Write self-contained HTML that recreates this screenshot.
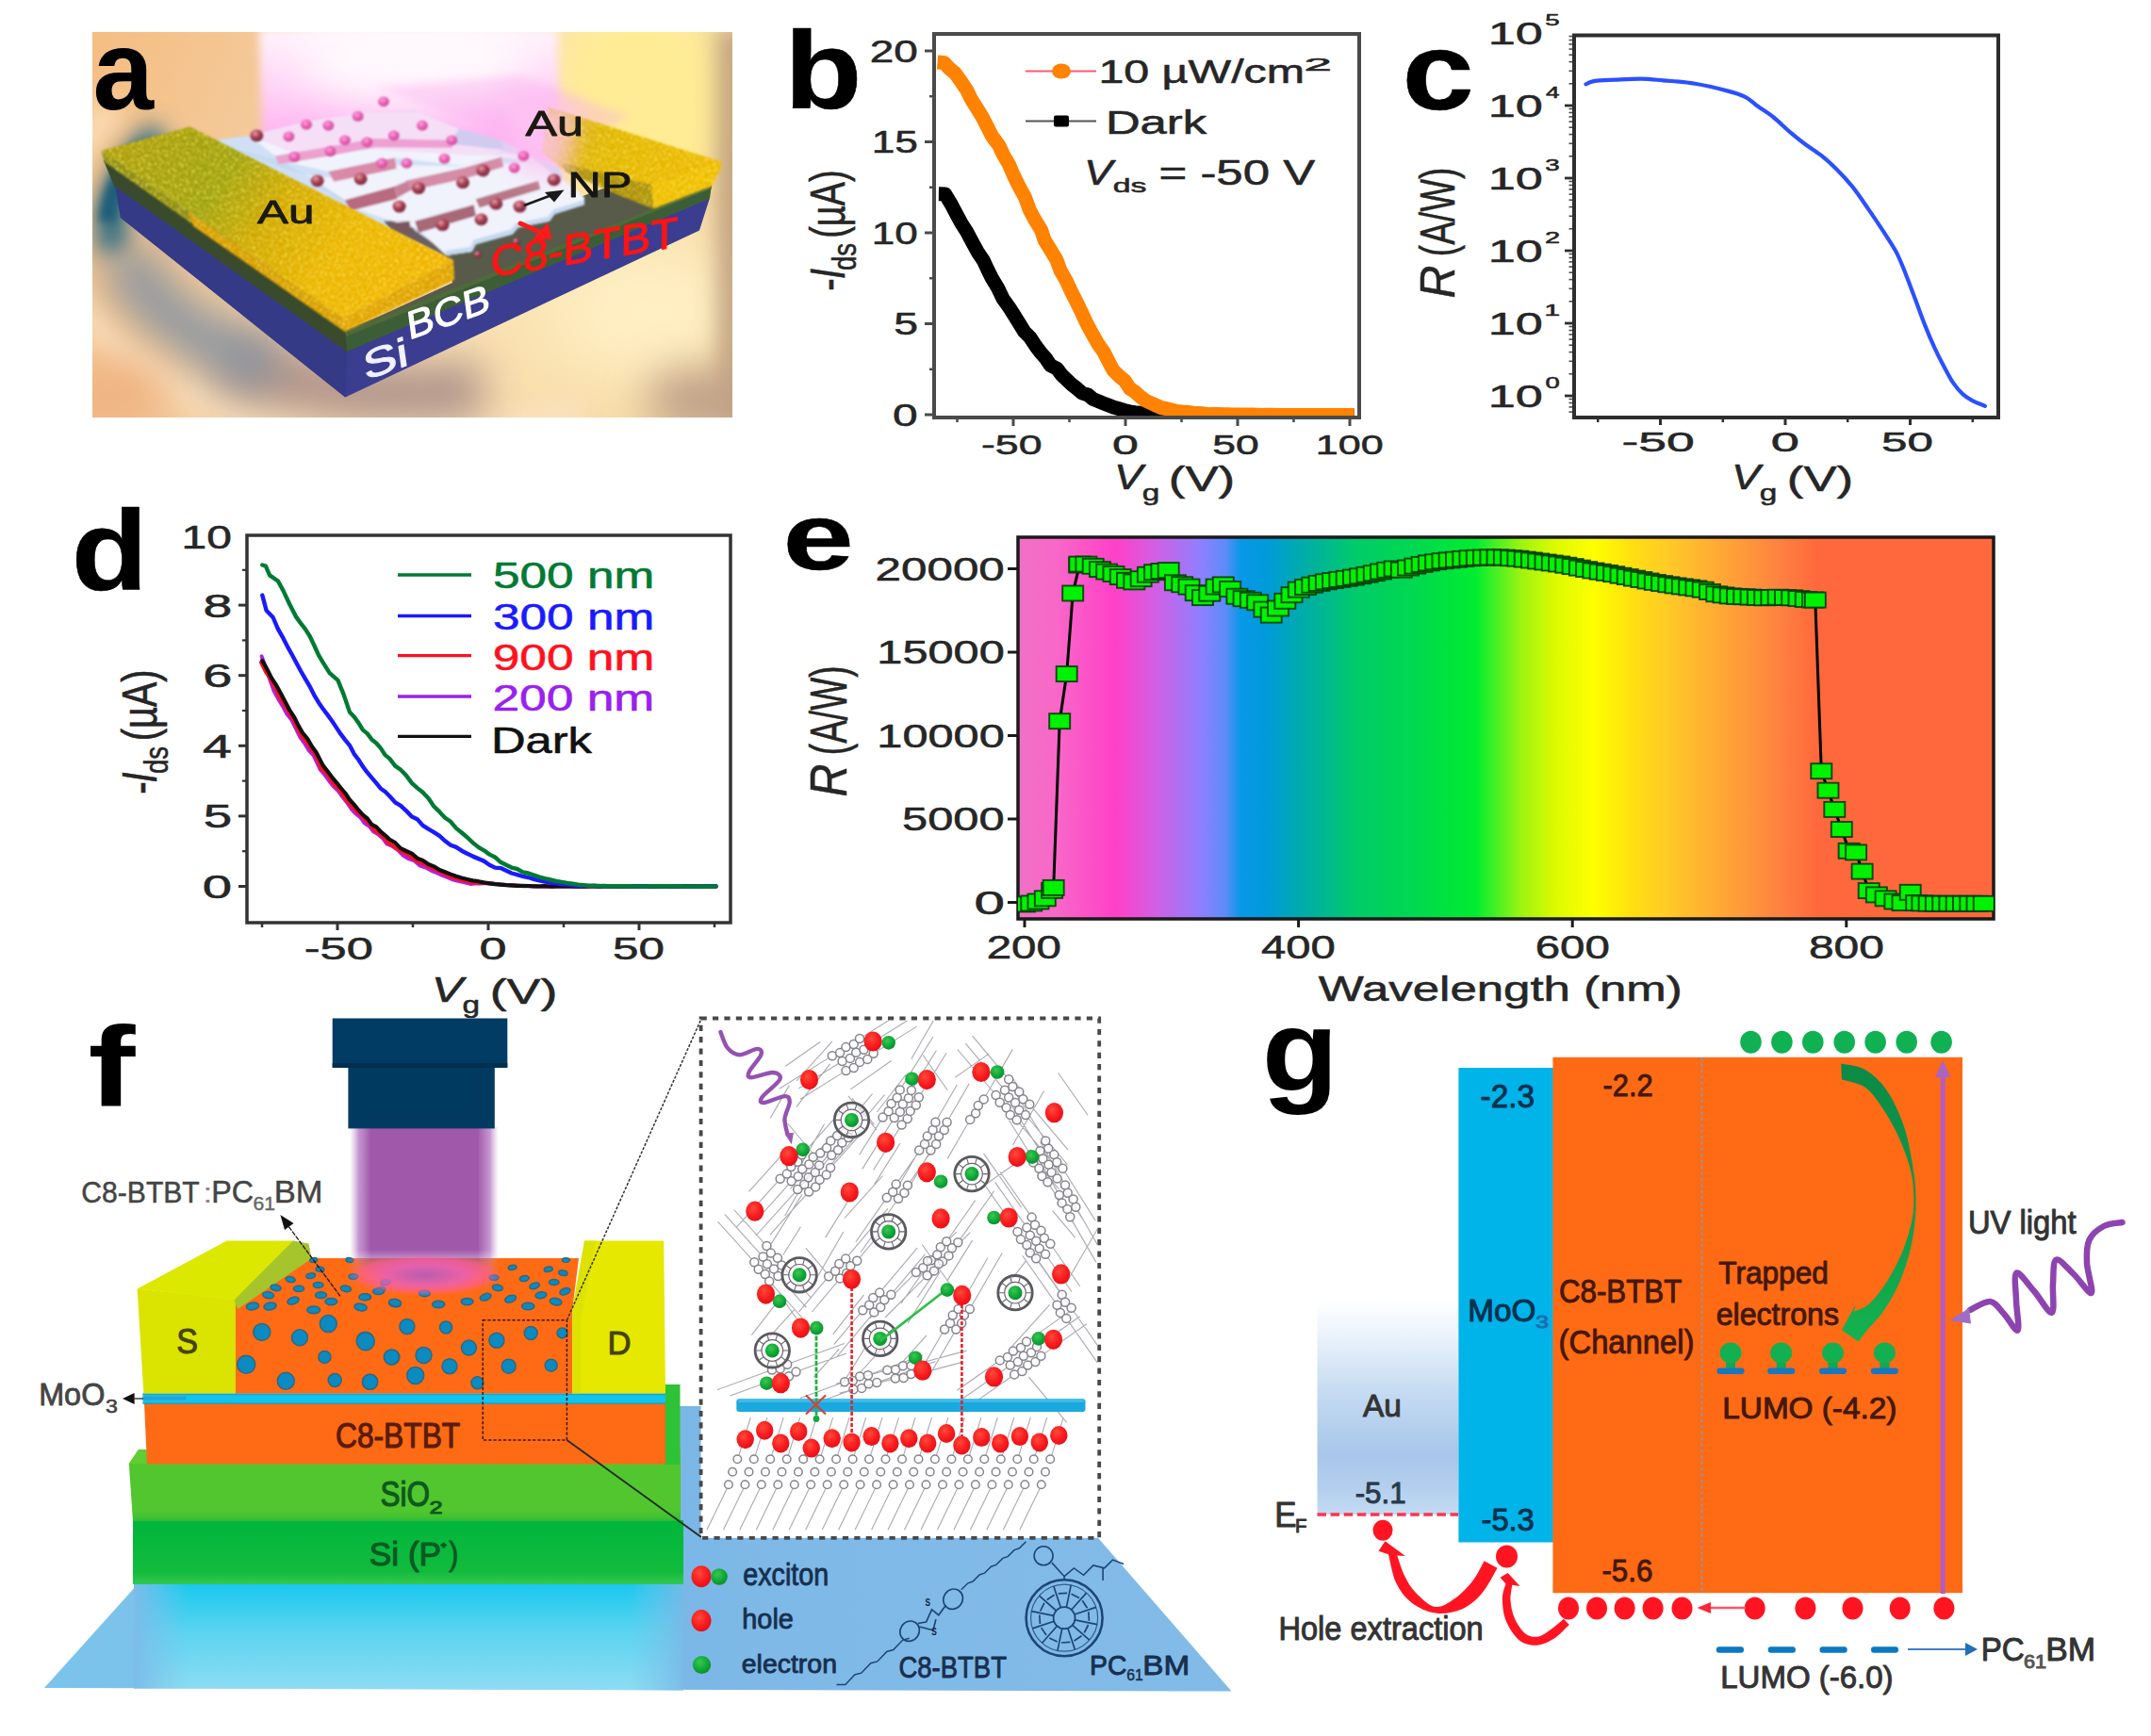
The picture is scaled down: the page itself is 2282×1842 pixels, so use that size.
<!DOCTYPE html>
<html lang="en"><head><meta charset="utf-8"><title>Figure</title>
<style>
html,body{margin:0;padding:0;background:#fff;}
body{width:2282px;height:1842px;overflow:hidden;}
svg{display:block;filter:blur(0.65px);font-family:"Liberation Sans",Arial,Helvetica,sans-serif;}
</style></head><body>
<svg width="2282" height="1842" viewBox="0 0 2282 1842">
<defs>
<clipPath id="clipa"><rect x="98" y="34" width="679" height="409"/></clipPath>
<filter id="bl40" filterUnits="userSpaceOnUse" x="0" y="-80" width="950" height="650"><feGaussianBlur stdDeviation="40"/></filter>
<filter id="bl22" filterUnits="userSpaceOnUse" x="0" y="-80" width="950" height="650"><feGaussianBlur stdDeviation="22"/></filter>
<filter id="bl12" filterUnits="userSpaceOnUse" x="0" y="-80" width="950" height="650"><feGaussianBlur stdDeviation="12"/></filter>
<filter id="bl5" filterUnits="userSpaceOnUse" x="0" y="-80" width="950" height="650"><feGaussianBlur stdDeviation="5"/></filter>
<filter id="bl1" x="-5%" y="-5%" width="110%" height="110%"><feGaussianBlur stdDeviation="1.1"/></filter>
<filter id="bl2" x="-5%" y="-5%" width="110%" height="110%"><feGaussianBlur stdDeviation="2"/></filter>
<linearGradient id="abg" x1="0" y1="0" x2="1" y2="0.25"><stop offset="0" stop-color="#f5bd82"/><stop offset="0.35" stop-color="#f3cc9e"/><stop offset="0.7" stop-color="#fbe2b4"/><stop offset="1" stop-color="#f6d9a4"/></linearGradient>
<linearGradient id="goldL" gradientUnits="userSpaceOnUse" x1="150" y1="140" x2="420" y2="330"><stop offset="0" stop-color="#a89c0c"/><stop offset="0.3" stop-color="#9aa012"/><stop offset="0.5" stop-color="#d2a800"/><stop offset="0.75" stop-color="#efb600"/><stop offset="1" stop-color="#f4b400"/></linearGradient>
<linearGradient id="goldR" gradientUnits="userSpaceOnUse" x1="590" y1="120" x2="740" y2="200"><stop offset="0" stop-color="#d8b010"/><stop offset="0.5" stop-color="#e6b800"/><stop offset="1" stop-color="#f0b800"/></linearGradient>
<linearGradient id="beamA" x1="0" y1="0" x2="0" y2="1"><stop offset="0" stop-color="#fff4fb"/><stop offset="0.35" stop-color="#ffd2f6"/><stop offset="0.8" stop-color="#ff9fee"/><stop offset="1" stop-color="#ff8ae8"/></linearGradient>
<radialGradient id="npd" cx="0.38" cy="0.32" r="0.75"><stop offset="0" stop-color="#e8a0a8"/><stop offset="0.45" stop-color="#a84055"/><stop offset="1" stop-color="#6e2438"/></radialGradient>
<radialGradient id="npp" cx="0.4" cy="0.35" r="0.75"><stop offset="0" stop-color="#ffa0e0"/><stop offset="0.5" stop-color="#e85cb0"/><stop offset="1" stop-color="#c04890"/></radialGradient>
<filter id="grainY" x="0" y="0" width="100%" height="100%"><feTurbulence type="fractalNoise" baseFrequency="0.42" numOctaves="2" seed="3" result="n"/><feColorMatrix in="n" type="matrix" values="0 0 0 0 1  0 0 0 0 0.92  0 0 0 0 0.1  0 0 0 2.6 -1.25" result="c"/><feComposite in="c" in2="SourceGraphic" operator="in"/></filter>
<filter id="grainD" x="0" y="0" width="100%" height="100%"><feTurbulence type="fractalNoise" baseFrequency="0.5" numOctaves="2" seed="11" result="n"/><feColorMatrix in="n" type="matrix" values="0 0 0 0 0.5  0 0 0 0 0.3  0 0 0 0 0  0 0 0 2.4 -1.3" result="c"/><feComposite in="c" in2="SourceGraphic" operator="in"/></filter>
<pattern id="goldtex" width="5" height="5" patternUnits="userSpaceOnUse" patternTransform="rotate(28)"><rect width="5" height="5" fill="none"/><circle cx="1.4" cy="1.4" r="1.1" fill="#fff200" opacity="0.28"/><circle cx="3.8" cy="3.6" r="1" fill="#a06800" opacity="0.22"/></pattern>
<linearGradient id="specg" gradientUnits="userSpaceOnUse" x1="1080" y1="0" x2="2115" y2="0">
<stop offset="0.0000" stop-color="#f070c4"/>
<stop offset="0.0386" stop-color="#f868c8"/>
<stop offset="0.0995" stop-color="#ff40c8"/>
<stop offset="0.1420" stop-color="#d060e4"/>
<stop offset="0.1884" stop-color="#8c80ff"/>
<stop offset="0.2126" stop-color="#5c8cf8"/>
<stop offset="0.2280" stop-color="#0898e8"/>
<stop offset="0.2531" stop-color="#009adc"/>
<stop offset="0.2995" stop-color="#00b0a0"/>
<stop offset="0.3478" stop-color="#00cc68"/>
<stop offset="0.4058" stop-color="#00d850"/>
<stop offset="0.4686" stop-color="#00ec30"/>
<stop offset="0.4879" stop-color="#40f024"/>
<stop offset="0.5169" stop-color="#a0f410"/>
<stop offset="0.5507" stop-color="#dcfa00"/>
<stop offset="0.5894" stop-color="#ffff00"/>
<stop offset="0.6280" stop-color="#ffe010"/>
<stop offset="0.6696" stop-color="#ffc828"/>
<stop offset="0.7333" stop-color="#ffa038"/>
<stop offset="0.7826" stop-color="#ff8040"/>
<stop offset="0.8193" stop-color="#ff683c"/>
<stop offset="1.0000" stop-color="#ff683c"/>
</linearGradient>
<linearGradient id="floorg" gradientUnits="userSpaceOnUse" x1="40" y1="0" x2="1310" y2="0">
<stop offset="0" stop-color="#7cc4ec"/><stop offset="0.5" stop-color="#78b6e6"/><stop offset="0.62" stop-color="#7fb9e7"/><stop offset="1" stop-color="#82bbe8"/></linearGradient>
<linearGradient id="reflg" gradientUnits="userSpaceOnUse" x1="0" y1="1680" x2="0" y2="1794">
<stop offset="0" stop-color="#18c8ee"/><stop offset="0.45" stop-color="#5ad4f0"/><stop offset="1" stop-color="#8edcf2"/></linearGradient>
<linearGradient id="reflg2" gradientUnits="userSpaceOnUse" x1="142" y1="0" x2="725" y2="0">
<stop offset="0" stop-color="#7bbcea" stop-opacity="1"/><stop offset="0.1" stop-color="#7cc4ec" stop-opacity="0"/><stop offset="0.9" stop-color="#7cc4ec" stop-opacity="0"/><stop offset="1" stop-color="#7ab8e6" stop-opacity="0.9"/></linearGradient>
<linearGradient id="sig" x1="0" y1="0" x2="0" y2="1"><stop offset="0" stop-color="#00b63c"/><stop offset="0.8" stop-color="#12bb3c"/><stop offset="1" stop-color="#34c850"/></linearGradient>
<linearGradient id="sio2b" x1="0" y1="0" x2="0" y2="1"><stop offset="0" stop-color="#52c62e" stop-opacity="0"/><stop offset="1" stop-color="#2cbc36"/></linearGradient>
<linearGradient id="beamg" x1="0" y1="0" x2="1" y2="0"><stop offset="0" stop-color="#c9a0d6" stop-opacity="0"/><stop offset="0.06" stop-color="#b77cc4" stop-opacity="0.8"/><stop offset="0.14" stop-color="#a058ab"/><stop offset="0.86" stop-color="#a058ab"/><stop offset="0.94" stop-color="#b77cc4" stop-opacity="0.8"/><stop offset="1" stop-color="#c9a0d6" stop-opacity="0"/></linearGradient>
<linearGradient id="beamfade" gradientUnits="userSpaceOnUse" x1="0" y1="1190" x2="0" y2="1360"><stop offset="0" stop-color="#fff"/><stop offset="0.8" stop-color="#fff"/><stop offset="0.97" stop-color="#000"/></linearGradient>
<radialGradient id="glowg"><stop offset="0" stop-color="#b45cb8" stop-opacity="0.95"/><stop offset="0.5" stop-color="#e860bc" stop-opacity="0.85"/><stop offset="0.8" stop-color="#ff5cae" stop-opacity="0.55"/><stop offset="1" stop-color="#ff6a90" stop-opacity="0"/></radialGradient>
<radialGradient id="rsph" cx="0.4" cy="0.35" r="0.7"><stop offset="0" stop-color="#ff4a3a"/><stop offset="0.6" stop-color="#fa1a1e"/><stop offset="1" stop-color="#e01018"/></radialGradient>
<radialGradient id="gsph" cx="0.4" cy="0.35" r="0.7"><stop offset="0" stop-color="#3ac850"/><stop offset="0.6" stop-color="#10a838"/><stop offset="1" stop-color="#0a8a2c"/></radialGradient>
<linearGradient id="aug" x1="0" y1="0" x2="0" y2="1">
<stop offset="0" stop-color="#ffffff"/><stop offset="0.18" stop-color="#e8f1fa"/><stop offset="0.45" stop-color="#c2d9f1"/><stop offset="0.72" stop-color="#a8c6ea"/><stop offset="0.88" stop-color="#b4cfee"/><stop offset="1" stop-color="#c4dbf3"/></linearGradient>
<linearGradient id="garr" x1="0" y1="0" x2="0" y2="1"><stop offset="0" stop-color="#0b8a45"/><stop offset="0.5" stop-color="#0f9a4a"/><stop offset="1" stop-color="#14b24f"/></linearGradient>
</defs>
<rect width="2282" height="1842" fill="#fff"/>
<g id="panel_a">
<g clip-path="url(#clipa)">
<rect x="97" y="33" width="681" height="411" fill="url(#abg)"/>
<ellipse cx="680" cy="110" rx="95" ry="120" fill="#ffec94" filter="url(#bl22)"/>
<ellipse cx="690" cy="330" rx="120" ry="80" fill="#fff0c4" filter="url(#bl40)"/>
<rect x="762" y="30" width="30" height="420" fill="#b89878" filter="url(#bl12)" opacity="0.9"/>
<path d="M620.2,433.8 L582.3,445.0 L542.4,453.7 L501.2,459.7 L459.1,462.9 L416.6,463.3 L374.3,460.9 L332.8,455.7 L292.5,447.8 L254.0,437.3 L217.7,424.3 L184.2,408.9 L153.7,391.5 L126.9,372.1 L103.8,351.1 L85.0,328.7 L70.5,305.2 L60.7,280.8 L55.5,256.0 L55.1,231.0 L59.5,206.1 L68.6,181.7 L82.4,158.0 L100.5,135.4 L122.9,114.2" fill="none" stroke="#fbe3c2" stroke-width="34" opacity="0.75" filter="url(#bl12)"/>
<path d="M513.0,411.5 L501.2,413.1 L489.4,414.5 L477.4,415.6 L465.4,416.5 L453.4,417.1 L441.3,417.4 L429.2,417.5 L417.1,417.3 L405.0,416.9 L393.0,416.2 L381.0,415.2 L369.1,414.0 L357.3,412.5 L345.6,410.8 L334.0,408.8 L322.6,406.5 L311.3,404.1 L300.2,401.3 L289.4,398.4 L278.7,395.2 L268.2,391.8 L258.0,388.1 L248.1,384.3 L238.4,380.2" fill="none" stroke="#a88c88" stroke-width="62" opacity="0.9" filter="url(#bl22)"/>
<path d="M289.9,389.8 L279.6,386.6 L269.4,383.2 L259.6,379.5 L250.0,375.7 L240.6,371.6 L231.6,367.3 L222.9,362.9 L214.5,358.2 L206.4,353.4 L198.7,348.4 L191.3,343.2 L184.3,337.9 L177.7,332.4 L171.5,326.8 L165.7,321.0 L160.3,315.1 L155.3,309.2 L150.7,303.1 L146.6,296.9 L142.9,290.6 L139.7,284.3 L136.9,277.9 L134.5,271.4 L132.6,264.9" fill="none" stroke="#8492a0" stroke-width="56" opacity="0.9" filter="url(#bl22)"/>
<path d="M120.8,266.3 L119.6,260.9 L118.7,255.5 L118.1,250.0 L117.7,244.6 L117.7,239.2 L118.0,233.7 L118.6,228.3 L119.4,222.9 L120.6,217.5 L122.0,212.1 L123.7,206.8 L125.7,201.5 L128.0,196.2 L130.6,190.9 L133.5,185.8 L136.6,180.6 L140.1,175.5 L143.7,170.5 L147.7,165.6 L151.9,160.7 L156.4,155.9 L161.1,151.2 L166.1,146.5 L171.4,142.0" fill="none" stroke="#2c6a84" stroke-width="32" filter="url(#bl12)"/>
<path d="M113.9,235.2 L114.2,231.8 L114.5,228.4 L115.0,225.0 L115.6,221.6 L116.4,218.3 L117.2,214.9 L118.1,211.5 L119.2,208.2 L120.4,204.8 L121.6,201.5 L123.0,198.2 L124.5,194.9 L126.1,191.6 L127.9,188.4 L129.7,185.1 L131.6,181.9 L133.7,178.7 L135.8,175.5 L138.1,172.4 L140.4,169.2 L142.9,166.1 L145.5,163.1 L148.2,160.0 L150.9,157.0" fill="none" stroke="#1f5d78" stroke-width="18" filter="url(#bl5)"/>
<ellipse cx="118" cy="420" rx="60" ry="40" fill="#f0b483" filter="url(#bl22)"/>
<ellipse cx="745" cy="425" rx="60" ry="35" fill="#bfa088" filter="url(#bl22)"/>
<path d="M275,30 L591,30 L594,150 Q594,200 470,215 Q300,215 278,150 Z" fill="url(#beamA)" filter="url(#bl5)"/>
<ellipse cx="440" cy="62" rx="125" ry="48" fill="#fffafd" filter="url(#bl22)" opacity="0.95"/>
<path d="M122,196 L368,372 L753,210 L742,244.5 L366.3,421.5 L128,231 Z" fill="#3b3d90"/>
<path d="M122,196 L368,372 L366.3,421.5 L128,231 Z" fill="#353a86"/>
<path d="M110,170 L366,350 L755,196 L753,210.5 L368,373 L121,197 Z" fill="#3c5e36"/>
<path d="M110,170 L366,350 L368,373 L121,197 Z" fill="#3a4a2c"/>
<path d="M366,352 L480,300 L470,262 L640,200 L700,205 L755,196 L700,222 Z" fill="#585a4a"/>
<path d="M366,352 L755,196 L755,200 L367,357 Z" fill="#4f6a3a"/>
<g filter="url(#bl1)"><polygon points="229.3,148.8 264.4,143.9 317.2,131.2 385.5,119.5 440.2,117.6 487.1,137.1 532.0,148.8 561.3,164.4 592.6,176.2 598.4,191.8 619.9,209.4 619.9,217.2 588.6,226.9 582.8,234.8 549.6,241.6 543.7,248.4 504.7,259.2 500.8,267.0 473.4,270.9 481.2,276.7 414.8,248.4 229.3,158.6" fill="#cfe0f6"/>
<polygon points="407.0,234.8 434.4,232.8 440.2,244.5 477.3,269.9 482.2,277.7 414.8,244.5" fill="#6a5e62"/>
<polygon points="264.4,143.9 325.0,129.3 387.5,119.5 442.2,118.6 487.1,137.1 479.3,148.8 397.3,146.9 348.4,155.7 291.8,165.4" fill="#f1f3fc"/>
<polygon points="297.6,170.3 350.4,161.5 399.2,152.3 481.2,153.1 532.0,148.8 535.9,160.5 492.9,176.2 418.7,167.4 405.1,170.3 348.4,182.0" fill="#f1f3fc"/>
<polygon points="325.0,185.9 356.2,188.9 420.7,175.2 492.9,176.6 535.9,160.9 561.3,165.4 571.1,172.7 532.0,166.4 492.9,178.1 430.5,191.8 418.7,197.7 366.0,212.3" fill="#f1f3fc"/>
<polygon points="366.0,212.3 418.7,197.7 434.4,198.6 493.9,185.5 534.4,173.2 571.1,172.7 592.6,176.6 597.4,190.8 571.1,191.8 504.7,211.3 440.2,234.8 416.8,234.8 371.9,219.5" fill="#f1f3fc"/>
<polygon points="416.8,234.8 440.2,234.8 504.7,211.3 571.1,191.8 597.4,190.8 619.9,209.4 619.9,217.2 588.6,226.9 582.8,234.8 549.6,241.6 543.7,248.4 504.7,259.2 500.8,267.0 473.4,270.9 444.1,243.5" fill="#f1f3fc"/>
<polygon points="479.3,148.8 487.1,137.1 532.0,148.8 535.9,160.5 530.1,158.6 481.2,153.1" fill="#c4d9f2"/>
<polygon points="561.3,165.4 592.6,176.6 597.4,190.8 588.6,185.9 571.1,172.7" fill="#c4d9f2"/>
<polygon points="325.0,185.9 366.0,212.3 371.9,219.5 336.7,197.7" fill="#c4d9f2"/>
<polygon points="244.9,157.0 297.6,170.3 325.0,185.9 309.4,182.0" fill="#c4d9f2"/>
<polygon points="473.4,270.9 500.8,267.0 504.7,259.2 543.7,248.4 549.6,241.6 582.8,234.8 588.6,226.9 619.9,217.2 619.9,212.3 587.7,222.1 580.8,229.9 547.6,236.7 541.8,243.5 502.7,254.3 498.8,262.1 472.4,266.0" fill="#c4d9f2"/>
<polygon points="291.8,165.4 348.4,155.7 397.3,146.9 479.3,148.8 479.7,157.0 398.2,156.2 349.4,165.4 295.7,174.6" fill="#e9a2cc"/>
<polygon points="348.4,182.0 405.1,170.3 418.7,167.4 420.7,179.1 407.0,182.0 354.3,192.8" fill="#d98aa8"/>
<polygon points="430.5,191.8 492.9,178.1 532.0,166.4 534.4,177.1 493.9,189.4 434.4,202.5" fill="#d58ca6"/>
<polygon points="366.0,212.3 418.7,197.7 421.7,210.9 371.9,223.8" fill="#b86a80"/>
<polygon points="440.2,234.8 502.7,217.2 505.1,228.9 444.1,246.9" fill="#a86878"/>
<polygon points="504.7,211.3 571.1,191.8 573.4,200.8 508.6,220.5" fill="#b87888"/>
<polygon points="414.8,236.7 434.4,234.8 436.7,247.6 424.6,247.6" fill="#7a5660"/>
<polygon points="432.4,192.2 418.7,197.7 421.7,209.8 435.3,202.3" fill="#c88098"/>
<polygon points="264.4,143.9 317.2,131.2 385.5,119.5 440.2,117.6 487.1,137.1 532.0,148.8 561.3,164.4 492.9,164.4 395.3,158.6 317.2,164.4" fill="#ff9ae6" opacity="0.22"/>
</g>
<polygon points="397.9,93.0 550.4,80.0 669.4,124.6 580.2,156.2 483.5,122.7" fill="#f7a8ee" opacity="0.35" filter="url(#bl5)"/>
<g filter="url(#bl1)"><path d="M107.7,160 L201.5,134.5 L481,276 L364,338 Z" fill="url(#goldL)"/>
<path d="M107.7,160 L364,338 L366,352 L111,172 Z" fill="#8a8a18"/>
<path d="M200,225 L364,338 L366,352 L205,240 Z" fill="#d89c00"/>
<path d="M364,338 L481,276 L482,297 L366,352 Z" fill="#e2a000"/>
<path d="M107.7,160 L201.5,134.5 L481,276 L482,297 L366,352 L111,172 Z" fill="#fff" filter="url(#grainY)"/>
<path d="M107.7,160 L201.5,134.5 L481,276 L482,297 L366,352 L111,172 Z" fill="#fff" filter="url(#grainD)"/>
<path d="M575,161 L581.8,113.7 L765.4,171.8 L764.3,178.8 L755,197.4 L693.4,221.2 L656.2,206.7 L595.8,178.8 Z" fill="url(#goldR)"/>
<path d="M691,196 L763,173 L755,197.4 L693.4,221.2 Z" fill="#f2c000"/>
<path d="M595.8,173 L691,196 L693.4,221.2 L656.2,206.7 L600,182 Z" fill="#a88c08"/>
<path d="M575,161 L581.8,113.7 L765.4,171.8 L764.3,178.8 L755,197.4 L693.4,221.2 L656.2,206.7 L595.8,178.8 Z" fill="#fff" filter="url(#grainY)"/>
<path d="M575,161 L581.8,113.7 L765.4,171.8 L764.3,178.8 L755,197.4 L693.4,221.2 L656.2,206.7 L595.8,178.8 Z" fill="#fff" filter="url(#grainD)"/>
</g>
<path d="M540,100 L615,112 L600,190 L545,180 Z" fill="#ffc4f2" opacity="0.8" filter="url(#bl12)"/>
<g filter="url(#bl1)"><ellipse cx="272.3" cy="143.9" rx="7.0" ry="6.4" fill="url(#npd)"/><ellipse cx="306.4" cy="144.9" rx="5.9" ry="5.4" fill="url(#npp)"/><ellipse cx="325.0" cy="132.2" rx="5.9" ry="5.4" fill="url(#npp)"/><ellipse cx="348.4" cy="133.2" rx="5.9" ry="5.4" fill="url(#npp)"/><ellipse cx="379.7" cy="123.4" rx="5.9" ry="5.4" fill="url(#npp)"/><ellipse cx="407.0" cy="107.8" rx="5.9" ry="5.4" fill="url(#npp)"/><ellipse cx="448.0" cy="133.2" rx="5.9" ry="5.4" fill="url(#npp)"/><ellipse cx="417.8" cy="143.9" rx="5.9" ry="5.4" fill="url(#npp)"/><ellipse cx="389.4" cy="150.8" rx="5.9" ry="5.4" fill="url(#npp)"/><ellipse cx="366.0" cy="148.8" rx="5.9" ry="5.4" fill="url(#npp)"/><ellipse cx="350.4" cy="160.5" rx="5.9" ry="5.4" fill="url(#npp)"/><ellipse cx="312.3" cy="166.4" rx="5.9" ry="5.4" fill="url(#npp)"/><ellipse cx="405.1" cy="173.2" rx="5.9" ry="5.4" fill="url(#npp)"/><ellipse cx="431.4" cy="173.2" rx="5.9" ry="5.4" fill="url(#npp)"/><ellipse cx="471.5" cy="168.4" rx="5.9" ry="5.4" fill="url(#npp)"/><ellipse cx="555.4" cy="165.4" rx="5.9" ry="5.4" fill="url(#npp)"/><ellipse cx="545.7" cy="178.1" rx="5.9" ry="5.4" fill="url(#npp)"/><ellipse cx="512.5" cy="181.0" rx="7.0" ry="6.4" fill="url(#npd)"/><ellipse cx="491.0" cy="193.7" rx="7.0" ry="6.4" fill="url(#npd)"/><ellipse cx="444.1" cy="199.6" rx="7.0" ry="6.4" fill="url(#npd)"/><ellipse cx="382.6" cy="189.8" rx="7.0" ry="6.4" fill="url(#npd)"/><ellipse cx="336.7" cy="191.8" rx="7.0" ry="6.4" fill="url(#npd)"/><ellipse cx="587.7" cy="190.8" rx="7.0" ry="6.4" fill="url(#npd)"/><ellipse cx="526.2" cy="216.2" rx="7.0" ry="6.4" fill="url(#npd)"/><ellipse cx="551.5" cy="219.1" rx="7.0" ry="6.4" fill="url(#npd)"/><ellipse cx="423.6" cy="219.1" rx="7.0" ry="6.4" fill="url(#npd)"/><ellipse cx="510.5" cy="232.8" rx="7.0" ry="6.4" fill="url(#npd)"/><ellipse cx="469.5" cy="238.7" rx="7.0" ry="6.4" fill="url(#npd)"/><ellipse cx="547.6" cy="256.2" rx="3.9" ry="3.5" fill="url(#npd)"/><ellipse cx="479.3" cy="148.8" rx="5.9" ry="5.4" fill="url(#npp)"/><ellipse cx="506.6" cy="269.9" rx="3.9" ry="3.5" fill="url(#npd)"/></g>
<line x1="556" y1="218" x2="588" y2="206" stroke="#1a1a1a" stroke-width="2.6"/>
<polygon points="598.5,201.5 578,204 588,214.5" fill="#1a1a1a"/>
<line x1="552" y1="237" x2="572" y2="246" stroke="#ff1a1a" stroke-width="5" stroke-linecap="round"/>
<polygon points="585.5,253.5 581,236 565,254.5" fill="#ff1a1a"/>
<text transform="translate(273.0,237.0) scale(1.419,1)" x="-0.0" y="0" font-size="34.8" fill="#1a1a10" stroke="#1a1a10" stroke-width="0.8" stroke-linejoin="round">Au</text>
<text transform="translate(557.5,143.5) scale(1.359,1)" x="-0.0" y="0" font-size="37.0" fill="#1a1a10" stroke="#1a1a10" stroke-width="0.8" stroke-linejoin="round">Au</text>
<text transform="translate(606.2,209.0) scale(1.323,1)" x="-3.0" y="0" font-size="37.1" fill="#151515" stroke="#151515" stroke-width="0.8" stroke-linejoin="round">NP</text>
<text transform="translate(522.8,293.5) rotate(-9.2) skewX(-10) scale(1.074,1)" x="-2.2" y="0" font-size="45.0" fill="#ff1414" stroke="#ff1414" stroke-width="1.1" stroke-linejoin="round">C8-BTBT</text>
<text transform="translate(437.0,359.5) rotate(-19.6) skewX(-12) scale(1.114,1)" x="-3.2" y="0" font-size="40.6" fill="#fff" stroke="#fff" stroke-width="1.0" stroke-linejoin="round">BCB</text>
<text transform="translate(390.0,403.0) rotate(-20) skewX(-12) scale(1.355,1)" x="-1.9" y="0" font-size="41.4" fill="#f0f0ff" stroke="#f0f0ff" stroke-width="1.0" stroke-linejoin="round">Si</text>
</g>
<text transform="translate(102.0,116.0) scale(0.960,1)" x="-3.6" y="0" font-size="120.8" fill="#000" font-weight="bold">a</text>
</g>
<g id="panel_b">
<clipPath id="clipb"><rect x="989" y="34" width="455" height="411"/></clipPath><g clip-path="url(#clipb)"><path d="M995.9,205.8 L1002.6,205.9 L1009.7,217.7 L1014.7,227.2 L1020.1,237.3 L1025.6,245.8 L1030.9,255.8 L1037.1,267.2 L1043.2,276.2 L1047.6,285.7 L1052.3,295.2 L1058.8,305.9 L1064.2,317.2 L1070.1,325.3 L1075.1,333.1 L1080.8,342.3 L1086.8,352.0 L1092.8,358.0 L1098.8,367.1 L1104.1,374.1 L1109.7,380.5 L1114.4,387.6 L1121.3,391.2 L1126.4,397.8 L1131.4,402.7 L1137.0,408.0 L1142.6,412.3 L1147.8,416.9 L1154.6,419.2 L1159.5,423.4 L1165.0,425.7 L1170.4,427.9 L1176.1,430.1 L1181.8,432.3 L1187.4,433.8 L1193.0,435.4 L1198.4,436.8 L1204.0,437.6 L1209.5,438.2 L1215.1,439.3 L1220.7,439.3 L1226.4,439.9 L1232.0,440.0 L1237.5,440.3 L1243.1,440.7 L1248.5,441.3 L1253.4,441.1 L1258.8,441.0 L1263.5,441.3 L1268.6,441.2 L1273.5,441.1 L1278.6,441.2 L1283.6,441.3 L1288.6,441.2 L1293.6,441.0 L1298.9,441.0 L1303.7,441.2 L1308.8,441.0 L1314.0,441.0 L1318.7,441.1 L1323.9,441.2 L1328.8,441.1 L1333.7,441.1 L1339.1,441.2 L1344.1,441.2 L1349.1,441.2 L1354.1,441.0 L1359.4,441.1 L1364.3,441.1 L1369.8,441.0 L1374.8,441.1 L1379.9,441.0 L1385.3,441.0 L1390.3,441.1 L1395.2,441.2 L1400.4,441.0 L1405.5,441.0 L1410.7,441.2 L1416.1,441.3 L1421.4,441.3 L1426.3,441.1 L1431.4,441.2 L1436.7,441.1" fill="none" stroke="#000" stroke-width="15" stroke-linejoin="round" stroke-linecap="butt"/>
<path d="M994.5,65.9 L1001.4,66.4 L1007.4,72.9 L1013.2,77.6 L1019.7,86.7 L1025.9,95.9 L1030.1,104.7 L1036.0,114.3 L1042.2,124.3 L1047.3,134.2 L1052.7,144.8 L1059.9,154.5 L1064.3,164.0 L1070.3,174.2 L1075.5,186.4 L1080.5,196.6 L1087.5,209.5 L1092.4,222.9 L1098.2,233.8 L1104.6,244.0 L1108.1,254.8 L1113.8,264.0 L1121.0,275.9 L1124.8,286.6 L1131.2,297.9 L1136.4,309.2 L1141.7,319.7 L1147.9,332.3 L1152.8,343.1 L1158.6,353.8 L1164.7,364.7 L1171.0,373.5 L1175.2,381.8 L1180.7,392.4 L1187.5,399.3 L1193.2,403.9 L1198.7,412.3 L1204.4,416.1 L1209.2,420.5 L1215.2,425.0 L1220.7,427.5 L1226.4,430.1 L1232.0,432.6 L1237.3,433.7 L1243.0,435.0 L1248.6,436.5 L1254.3,437.0 L1259.9,437.3 L1265.3,438.2 L1270.8,438.4 L1276.3,438.8 L1282.2,439.7 L1287.3,439.4 L1292.3,439.5 L1297.6,439.8 L1302.6,439.8 L1307.6,439.9 L1313.1,440.0 L1317.9,440.0 L1323.3,440.0 L1328.6,440.1 L1333.6,440.2 L1338.9,440.4 L1343.9,440.2 L1349.0,440.3 L1354.2,440.6 L1359.2,440.5 L1364.5,440.4 L1369.7,440.6 L1374.9,440.5 L1380.1,440.4 L1385.2,440.5 L1390.4,440.6 L1395.3,440.5 L1400.5,440.5 L1405.9,440.5 L1410.7,440.5 L1416.1,440.6 L1421.3,440.6 L1426.2,440.6 L1431.6,440.5 L1436.7,440.5" fill="none" stroke="#ff8200" stroke-width="15" stroke-linejoin="round" stroke-linecap="butt"/>
</g><rect x="991" y="36" width="451" height="407" fill="none" stroke="#4a4a4a" stroke-width="4"/>
<line x1="981" y1="440.0" x2="991" y2="440.0" stroke="#4a4a4a" stroke-width="3"/>
<line x1="981" y1="343.5" x2="991" y2="343.5" stroke="#4a4a4a" stroke-width="3"/>
<line x1="981" y1="247.0" x2="991" y2="247.0" stroke="#4a4a4a" stroke-width="3"/>
<line x1="981" y1="150.5" x2="991" y2="150.5" stroke="#4a4a4a" stroke-width="3"/>
<line x1="981" y1="54.0" x2="991" y2="54.0" stroke="#4a4a4a" stroke-width="3"/>
<line x1="986" y1="391.8" x2="991" y2="391.8" stroke="#4a4a4a" stroke-width="2.5"/>
<line x1="986" y1="295.2" x2="991" y2="295.2" stroke="#4a4a4a" stroke-width="2.5"/>
<line x1="986" y1="198.8" x2="991" y2="198.8" stroke="#4a4a4a" stroke-width="2.5"/>
<line x1="986" y1="102.2" x2="991" y2="102.2" stroke="#4a4a4a" stroke-width="2.5"/>
<line x1="1075.0" y1="443" x2="1075.0" y2="452" stroke="#4a4a4a" stroke-width="3"/>
<line x1="1194.0" y1="443" x2="1194.0" y2="452" stroke="#4a4a4a" stroke-width="3"/>
<line x1="1313.0" y1="443" x2="1313.0" y2="452" stroke="#4a4a4a" stroke-width="3"/>
<line x1="1432.0" y1="443" x2="1432.0" y2="452" stroke="#4a4a4a" stroke-width="3"/>
<line x1="1015.5" y1="443" x2="1015.5" y2="448" stroke="#4a4a4a" stroke-width="2.5"/>
<line x1="1134.5" y1="443" x2="1134.5" y2="448" stroke="#4a4a4a" stroke-width="2.5"/>
<line x1="1253.5" y1="443" x2="1253.5" y2="448" stroke="#4a4a4a" stroke-width="2.5"/>
<line x1="1372.5" y1="443" x2="1372.5" y2="448" stroke="#4a4a4a" stroke-width="2.5"/>
<text transform="translate(925.0,65.5) scale(1.396,1)" x="-1.6" y="0" font-size="32.9" fill="#262626" stroke="#262626" stroke-width="0.55" stroke-linejoin="round">20</text>
<text transform="translate(928.0,162.0) scale(1.346,1)" x="-2.5" y="0" font-size="32.9" fill="#262626" stroke="#262626" stroke-width="0.55" stroke-linejoin="round">15</text>
<text transform="translate(928.0,258.5) scale(1.339,1)" x="-2.5" y="0" font-size="32.9" fill="#262626" stroke="#262626" stroke-width="0.55" stroke-linejoin="round">10</text>
<text transform="translate(950.0,355.0) scale(1.410,1)" x="-1.3" y="0" font-size="32.9" fill="#262626" stroke="#262626" stroke-width="0.55" stroke-linejoin="round">5</text>
<text transform="translate(949.0,451.5) scale(1.458,1)" x="-1.3" y="0" font-size="32.9" fill="#262626" stroke="#262626" stroke-width="0.55" stroke-linejoin="round">0</text>
<text transform="translate(1043.0,482.0) scale(1.490,1)" x="-1.4" y="0" font-size="30.0" fill="#262626" stroke="#262626" stroke-width="0.55" stroke-linejoin="round">-50</text>
<text transform="translate(1182.0,482.0) scale(1.667,1)" x="-1.2" y="0" font-size="30.0" fill="#262626" stroke="#262626" stroke-width="0.55" stroke-linejoin="round">0</text>
<text transform="translate(1288.0,482.0) scale(1.481,1)" x="-1.2" y="0" font-size="30.0" fill="#262626" stroke="#262626" stroke-width="0.55" stroke-linejoin="round">50</text>
<text transform="translate(1399.0,482.0) scale(1.436,1)" x="-2.2" y="0" font-size="30.0" fill="#262626" stroke="#262626" stroke-width="0.55" stroke-linejoin="round">100</text>
<text transform="translate(1186.0,519.0) scale(1.255,1)" x="-3.1" y="0" font-size="36.2" fill="#262626" font-style="italic" stroke="#262626" stroke-width="0.55" stroke-linejoin="round">V</text>
<text transform="translate(1213.0,531.0) scale(1.359,1)" x="-1.0" y="0" font-size="24.5" fill="#262626" stroke="#262626" stroke-width="0.55" stroke-linejoin="round">g</text>
<text transform="translate(1243.0,521.0) scale(1.460,1)" x="-2.2" y="0" font-size="36.2" fill="#262626" stroke="#262626" stroke-width="0.55" stroke-linejoin="round">(V)</text>
<text transform="translate(896.0,307.0) rotate(-90) scale(0.782,1)" x="-2.3" y="0" font-size="52.2" fill="#262626" stroke="#262626" stroke-width="0.55" stroke-linejoin="round">-</text>
<text transform="translate(896.0,294.5) rotate(-90) scale(0.767,1)" x="-2.1" y="0" font-size="52.2" fill="#262626" font-style="italic" stroke="#262626" stroke-width="0.55" stroke-linejoin="round">I</text>
<text transform="translate(908.0,286.0) rotate(-90) scale(0.799,1)" x="-1.4" y="0" font-size="34.5" fill="#262626" stroke="#262626" stroke-width="0.55" stroke-linejoin="round">ds</text>
<text transform="translate(896.0,250.6) rotate(-90) scale(0.726,1)" x="-3.1" y="0" font-size="52.2" fill="#262626" stroke="#262626" stroke-width="0.55" stroke-linejoin="round">(µA)</text>
<line x1="1088" y1="75.5" x2="1163" y2="75.5" stroke="#ff5a6e" stroke-width="2.2"/>
<ellipse cx="1126" cy="75.5" rx="10" ry="8" fill="#ff8200"/>
<text transform="translate(1169.0,87.5) scale(1.390,1)" x="-2.6" y="0" font-size="34.8" fill="#262626" stroke="#262626" stroke-width="0.55" stroke-linejoin="round">10 µW/cm</text>
<text transform="translate(1386.0,75.0) scale(2.840,1)" x="-0.9" y="0" font-size="18.6" fill="#262626" stroke="#262626" stroke-width="0.55" stroke-linejoin="round">2</text>
<line x1="1088" y1="128.5" x2="1163" y2="128.5" stroke="#555" stroke-width="2"/>
<rect x="1118" y="122.5" width="16" height="12" rx="2" fill="#000"/>
<text transform="translate(1177.0,141.5) scale(1.459,1)" x="-2.8" y="0" font-size="34.8" fill="#262626" stroke="#262626" stroke-width="0.55" stroke-linejoin="round">Dark</text>
<text transform="translate(1154.0,195.5) scale(1.255,1)" x="-3.1" y="0" font-size="36.2" fill="#262626" font-style="italic" stroke="#262626" stroke-width="0.55" stroke-linejoin="round">V</text>
<text transform="translate(1182.0,204.0) scale(1.628,1)" x="-0.8" y="0" font-size="20.7" fill="#262626" stroke="#262626" stroke-width="0.55" stroke-linejoin="round">ds</text>
<text transform="translate(1232.0,195.5) scale(1.408,1)" x="-1.8" y="0" font-size="36.2" fill="#262626" stroke="#262626" stroke-width="0.55" stroke-linejoin="round">= -50 V</text>
<text transform="translate(841.0,115.0) scale(1.149,1)" x="-7.6" y="0" font-size="117.2" fill="#000" font-weight="bold" stroke="#000" stroke-width="0.55" stroke-linejoin="round">b</text>
</g>
<g id="panel_c">
<path d="M1682.5,89.4 C1683.3,89.0 1685.6,87.6 1687.5,87.0 C1689.5,86.4 1689.7,86.1 1694.2,85.7 C1698.7,85.3 1706.5,85.0 1714.3,84.7 C1722.1,84.3 1732.7,83.6 1741.1,83.7 C1749.4,83.8 1755.0,84.5 1764.5,85.3 C1774.0,86.2 1786.8,86.9 1798.0,88.7 C1809.1,90.5 1822.5,93.7 1831.4,96.1 C1840.4,98.4 1845.9,100.0 1851.5,102.8 C1857.1,105.5 1859.9,109.2 1864.9,112.8 C1869.9,116.4 1876.1,120.0 1881.6,124.5 C1887.2,129.0 1892.8,134.8 1898.4,139.6 C1904.0,144.3 1909.5,148.8 1915.1,153.0 C1920.7,157.1 1926.3,160.2 1931.8,164.7 C1937.4,169.1 1943.0,174.2 1948.6,179.7 C1954.2,185.3 1959.7,191.2 1965.3,198.1 C1970.9,205.1 1976.5,213.5 1982.0,221.6 C1987.6,229.7 1993.8,238.9 1998.8,246.7 C2003.8,254.5 2008.3,260.9 2012.2,268.4 C2016.1,276.0 2018.9,283.5 2022.2,291.9 C2025.6,300.2 2028.9,309.7 2032.3,318.6 C2035.6,327.6 2038.9,337.0 2042.3,345.4 C2045.6,353.8 2049.0,361.6 2052.3,368.8 C2055.7,376.1 2059.0,382.6 2062.4,388.9 C2065.7,395.2 2069.1,401.8 2072.4,406.7 C2075.8,411.6 2079.1,415.3 2082.5,418.4 C2085.8,421.4 2088.6,423.0 2092.5,425.1 C2096.4,427.1 2103.7,429.8 2105.9,430.8" fill="none" stroke="#2b50ff" stroke-width="4.2" stroke-linejoin="round" stroke-linecap="round"/>
<rect x="1670" y="37.5" width="450" height="405.5" fill="none" stroke="#2e2e2e" stroke-width="4"/>
<line x1="1660" y1="420.0" x2="1670" y2="420.0" stroke="#2e2e2e" stroke-width="2.8"/>
<line x1="1664.5" y1="396.8" x2="1670" y2="396.8" stroke="#2e2e2e" stroke-width="1.6" opacity="0.85"/>
<line x1="1664.5" y1="383.3" x2="1670" y2="383.3" stroke="#2e2e2e" stroke-width="1.6" opacity="0.85"/>
<line x1="1664.5" y1="373.6" x2="1670" y2="373.6" stroke="#2e2e2e" stroke-width="1.6" opacity="0.85"/>
<line x1="1664.5" y1="366.2" x2="1670" y2="366.2" stroke="#2e2e2e" stroke-width="1.6" opacity="0.85"/>
<line x1="1664.5" y1="360.1" x2="1670" y2="360.1" stroke="#2e2e2e" stroke-width="1.6" opacity="0.85"/>
<line x1="1664.5" y1="354.9" x2="1670" y2="354.9" stroke="#2e2e2e" stroke-width="1.6" opacity="0.85"/>
<line x1="1664.5" y1="350.5" x2="1670" y2="350.5" stroke="#2e2e2e" stroke-width="1.6" opacity="0.85"/>
<line x1="1664.5" y1="346.5" x2="1670" y2="346.5" stroke="#2e2e2e" stroke-width="1.6" opacity="0.85"/>
<line x1="1660" y1="343.0" x2="1670" y2="343.0" stroke="#2e2e2e" stroke-width="2.8"/>
<line x1="1664.5" y1="319.8" x2="1670" y2="319.8" stroke="#2e2e2e" stroke-width="1.6" opacity="0.85"/>
<line x1="1664.5" y1="306.3" x2="1670" y2="306.3" stroke="#2e2e2e" stroke-width="1.6" opacity="0.85"/>
<line x1="1664.5" y1="296.6" x2="1670" y2="296.6" stroke="#2e2e2e" stroke-width="1.6" opacity="0.85"/>
<line x1="1664.5" y1="289.2" x2="1670" y2="289.2" stroke="#2e2e2e" stroke-width="1.6" opacity="0.85"/>
<line x1="1664.5" y1="283.1" x2="1670" y2="283.1" stroke="#2e2e2e" stroke-width="1.6" opacity="0.85"/>
<line x1="1664.5" y1="277.9" x2="1670" y2="277.9" stroke="#2e2e2e" stroke-width="1.6" opacity="0.85"/>
<line x1="1664.5" y1="273.5" x2="1670" y2="273.5" stroke="#2e2e2e" stroke-width="1.6" opacity="0.85"/>
<line x1="1664.5" y1="269.5" x2="1670" y2="269.5" stroke="#2e2e2e" stroke-width="1.6" opacity="0.85"/>
<line x1="1660" y1="266.0" x2="1670" y2="266.0" stroke="#2e2e2e" stroke-width="2.8"/>
<line x1="1664.5" y1="242.8" x2="1670" y2="242.8" stroke="#2e2e2e" stroke-width="1.6" opacity="0.85"/>
<line x1="1664.5" y1="229.3" x2="1670" y2="229.3" stroke="#2e2e2e" stroke-width="1.6" opacity="0.85"/>
<line x1="1664.5" y1="219.6" x2="1670" y2="219.6" stroke="#2e2e2e" stroke-width="1.6" opacity="0.85"/>
<line x1="1664.5" y1="212.2" x2="1670" y2="212.2" stroke="#2e2e2e" stroke-width="1.6" opacity="0.85"/>
<line x1="1664.5" y1="206.1" x2="1670" y2="206.1" stroke="#2e2e2e" stroke-width="1.6" opacity="0.85"/>
<line x1="1664.5" y1="200.9" x2="1670" y2="200.9" stroke="#2e2e2e" stroke-width="1.6" opacity="0.85"/>
<line x1="1664.5" y1="196.5" x2="1670" y2="196.5" stroke="#2e2e2e" stroke-width="1.6" opacity="0.85"/>
<line x1="1664.5" y1="192.5" x2="1670" y2="192.5" stroke="#2e2e2e" stroke-width="1.6" opacity="0.85"/>
<line x1="1660" y1="189.0" x2="1670" y2="189.0" stroke="#2e2e2e" stroke-width="2.8"/>
<line x1="1664.5" y1="165.8" x2="1670" y2="165.8" stroke="#2e2e2e" stroke-width="1.6" opacity="0.85"/>
<line x1="1664.5" y1="152.3" x2="1670" y2="152.3" stroke="#2e2e2e" stroke-width="1.6" opacity="0.85"/>
<line x1="1664.5" y1="142.6" x2="1670" y2="142.6" stroke="#2e2e2e" stroke-width="1.6" opacity="0.85"/>
<line x1="1664.5" y1="135.2" x2="1670" y2="135.2" stroke="#2e2e2e" stroke-width="1.6" opacity="0.85"/>
<line x1="1664.5" y1="129.1" x2="1670" y2="129.1" stroke="#2e2e2e" stroke-width="1.6" opacity="0.85"/>
<line x1="1664.5" y1="123.9" x2="1670" y2="123.9" stroke="#2e2e2e" stroke-width="1.6" opacity="0.85"/>
<line x1="1664.5" y1="119.5" x2="1670" y2="119.5" stroke="#2e2e2e" stroke-width="1.6" opacity="0.85"/>
<line x1="1664.5" y1="115.5" x2="1670" y2="115.5" stroke="#2e2e2e" stroke-width="1.6" opacity="0.85"/>
<line x1="1660" y1="112.0" x2="1670" y2="112.0" stroke="#2e2e2e" stroke-width="2.8"/>
<line x1="1664.5" y1="88.8" x2="1670" y2="88.8" stroke="#2e2e2e" stroke-width="1.6" opacity="0.85"/>
<line x1="1664.5" y1="75.3" x2="1670" y2="75.3" stroke="#2e2e2e" stroke-width="1.6" opacity="0.85"/>
<line x1="1664.5" y1="65.6" x2="1670" y2="65.6" stroke="#2e2e2e" stroke-width="1.6" opacity="0.85"/>
<line x1="1664.5" y1="58.2" x2="1670" y2="58.2" stroke="#2e2e2e" stroke-width="1.6" opacity="0.85"/>
<line x1="1664.5" y1="52.1" x2="1670" y2="52.1" stroke="#2e2e2e" stroke-width="1.6" opacity="0.85"/>
<line x1="1664.5" y1="46.9" x2="1670" y2="46.9" stroke="#2e2e2e" stroke-width="1.6" opacity="0.85"/>
<line x1="1664.5" y1="42.5" x2="1670" y2="42.5" stroke="#2e2e2e" stroke-width="1.6" opacity="0.85"/>
<line x1="1664.5" y1="38.5" x2="1670" y2="38.5" stroke="#2e2e2e" stroke-width="1.6" opacity="0.85"/>
<line x1="1664.5" y1="437.1" x2="1670" y2="437.1" stroke="#2e2e2e" stroke-width="1.6" opacity="0.85"/>
<line x1="1664.5" y1="431.9" x2="1670" y2="431.9" stroke="#2e2e2e" stroke-width="1.6" opacity="0.85"/>
<line x1="1664.5" y1="427.5" x2="1670" y2="427.5" stroke="#2e2e2e" stroke-width="1.6" opacity="0.85"/>
<line x1="1664.5" y1="423.5" x2="1670" y2="423.5" stroke="#2e2e2e" stroke-width="1.6" opacity="0.85"/>
<line x1="1761.5" y1="443" x2="1761.5" y2="451" stroke="#2e2e2e" stroke-width="3"/>
<line x1="1894.0" y1="443" x2="1894.0" y2="451" stroke="#2e2e2e" stroke-width="3"/>
<line x1="2026.5" y1="443" x2="2026.5" y2="451" stroke="#2e2e2e" stroke-width="3"/>
<line x1="1695.2" y1="443" x2="1695.2" y2="448" stroke="#2e2e2e" stroke-width="2.5"/>
<line x1="1827.8" y1="443" x2="1827.8" y2="448" stroke="#2e2e2e" stroke-width="2.5"/>
<line x1="1960.2" y1="443" x2="1960.2" y2="448" stroke="#2e2e2e" stroke-width="2.5"/>
<line x1="2092.8" y1="443" x2="2092.8" y2="448" stroke="#2e2e2e" stroke-width="2.5"/>
<text transform="translate(1582.5,432.3) scale(1.551,1)" x="-2.5" y="0" font-size="33.7" fill="#262626" stroke="#262626" stroke-width="0.55" stroke-linejoin="round">10</text>
<text transform="translate(1640.5,412.3) scale(1.604,1)" x="-0.7" y="0" font-size="17.1" fill="#262626" stroke="#262626" stroke-width="0.55" stroke-linejoin="round">0</text>
<text transform="translate(1582.5,355.3) scale(1.551,1)" x="-2.5" y="0" font-size="33.7" fill="#262626" stroke="#262626" stroke-width="0.55" stroke-linejoin="round">10</text>
<text transform="translate(1640.5,335.3) scale(1.770,1)" x="-1.3" y="0" font-size="17.1" fill="#262626" stroke="#262626" stroke-width="0.55" stroke-linejoin="round">1</text>
<text transform="translate(1582.5,278.3) scale(1.551,1)" x="-2.5" y="0" font-size="33.7" fill="#262626" stroke="#262626" stroke-width="0.55" stroke-linejoin="round">10</text>
<text transform="translate(1640.5,258.3) scale(1.692,1)" x="-0.9" y="0" font-size="17.1" fill="#262626" stroke="#262626" stroke-width="0.55" stroke-linejoin="round">2</text>
<text transform="translate(1582.5,201.3) scale(1.551,1)" x="-2.5" y="0" font-size="33.7" fill="#262626" stroke="#262626" stroke-width="0.55" stroke-linejoin="round">10</text>
<text transform="translate(1640.5,181.3) scale(1.621,1)" x="-0.7" y="0" font-size="17.1" fill="#262626" stroke="#262626" stroke-width="0.55" stroke-linejoin="round">3</text>
<text transform="translate(1582.5,124.3) scale(1.551,1)" x="-2.5" y="0" font-size="33.7" fill="#262626" stroke="#262626" stroke-width="0.55" stroke-linejoin="round">10</text>
<text transform="translate(1640.5,104.3) scale(1.525,1)" x="-0.3" y="0" font-size="17.1" fill="#262626" stroke="#262626" stroke-width="0.55" stroke-linejoin="round">4</text>
<text transform="translate(1582.5,47.3) scale(1.551,1)" x="-2.5" y="0" font-size="33.7" fill="#262626" stroke="#262626" stroke-width="0.55" stroke-linejoin="round">10</text>
<text transform="translate(1640.5,27.3) scale(1.621,1)" x="-0.7" y="0" font-size="17.1" fill="#262626" stroke="#262626" stroke-width="0.55" stroke-linejoin="round">5</text>
<text transform="translate(1723.0,479.0) scale(1.783,1)" x="-1.4" y="0" font-size="30.0" fill="#262626" stroke="#262626" stroke-width="0.55" stroke-linejoin="round">-50</text>
<text transform="translate(1881.0,479.0) scale(1.806,1)" x="-1.2" y="0" font-size="30.0" fill="#262626" stroke="#262626" stroke-width="0.55" stroke-linejoin="round">0</text>
<text transform="translate(1998.0,479.0) scale(1.643,1)" x="-1.2" y="0" font-size="30.0" fill="#262626" stroke="#262626" stroke-width="0.55" stroke-linejoin="round">50</text>
<text transform="translate(1841.0,519.0) scale(1.255,1)" x="-3.1" y="0" font-size="36.2" fill="#262626" font-style="italic" stroke="#262626" stroke-width="0.55" stroke-linejoin="round">V</text>
<text transform="translate(1868.0,531.0) scale(1.359,1)" x="-1.0" y="0" font-size="24.5" fill="#262626" stroke="#262626" stroke-width="0.55" stroke-linejoin="round">g</text>
<text transform="translate(1899.0,521.0) scale(1.460,1)" x="-2.2" y="0" font-size="36.2" fill="#262626" stroke="#262626" stroke-width="0.55" stroke-linejoin="round">(V)</text>
<text transform="translate(1542.5,315.0) rotate(-90) scale(0.929,1)" x="-1.6" y="0" font-size="52.2" fill="#262626" font-style="italic" stroke="#262626" stroke-width="0.55" stroke-linejoin="round">R</text>
<text transform="translate(1542.5,270.0) rotate(-90) scale(0.710,1)" x="-3.1" y="0" font-size="52.2" fill="#262626" stroke="#262626" stroke-width="0.55" stroke-linejoin="round">(A/W)</text>
<text transform="translate(1493.0,116.3) scale(1.166,1)" x="-4.7" y="0" font-size="117.6" fill="#000" font-weight="bold" stroke="#000" stroke-width="0.55" stroke-linejoin="round">c</text>
</g>
<g id="panel_d">
<path d="M277.6,696.3 L284.0,714.6 L290.4,732.7 L295.1,741.4 L299.8,749.1 L304.5,757.8 L309.2,763.7 L313.9,773.1 L318.6,782.6 L323.3,788.9 L328.0,796.6 L332.7,801.6 L339.8,816.7 L344.5,822.0 L349.2,828.7 L353.9,834.6 L358.7,839.1 L363.4,845.5 L368.1,851.5 L372.8,858.5 L377.5,863.4 L382.2,867.1 L386.9,873.5 L391.6,876.5 L396.3,882.4 L401.1,885.3 L405.8,889.1 L410.5,895.5 L416.4,897.9 L422.3,902.0 L428.1,908.1 L434.0,911.4 L439.9,913.4 L445.8,918.7 L451.7,920.5 L457.6,923.8 L463.5,926.1 L469.4,928.9 L475.2,931.1 L481.1,933.6 L487.0,935.1 L492.9,936.3 L498.8,937.9 L503.9,937.6 L509.0,937.4 L514.2,937.2 L519.3,937.1 L525.2,937.9 L531.1,938.2 L537.0,939.1 L542.8,939.3 L548.7,939.6 L554.6,940.2 L560.5,940.2 L566.4,940.2 L572.3,940.4 L576.9,940.5 L581.4,940.2 L586.0,940.7 L590.6,940.2 L595.1,940.6 L599.7,940.6 L604.3,940.2 L608.8,940.6 L613.4,940.4 L618.0,940.5 L622.5,940.2 L627.1,940.2 L631.7,940.3 L636.2,940.7 L640.8,940.3 L645.4,940.6 L649.9,940.6 L654.5,940.6 L659.1,940.3 L663.6,940.4 L668.2,940.4 L672.8,940.6 L677.3,940.2 L681.9,940.6 L686.5,940.6 L691.0,940.6 L695.6,940.2 L700.2,940.6 L704.7,940.2 L709.3,940.3 L713.9,940.5 L718.4,940.6 L723.0,940.3 L727.6,940.6 L732.1,940.4 L736.7,940.3 L741.3,940.3 L745.8,940.3 L750.4,940.2 L755.0,940.3 L759.5,940.4" fill="none" stroke="#b020f0" stroke-width="4.0" stroke-linejoin="round" stroke-linecap="round"/>
<path d="M276.9,702.8 L281.9,713.0 L286.8,720.3 L291.8,729.4 L296.5,740.1 L301.2,747.1 L305.9,755.1 L310.6,762.9 L315.3,772.0 L320.0,780.9 L324.7,787.0 L329.5,794.0 L334.2,800.1 L341.2,816.4 L345.9,820.0 L350.6,827.1 L355.4,833.9 L360.1,838.0 L364.8,845.4 L369.5,851.9 L374.2,856.3 L378.9,862.0 L383.6,865.6 L388.3,871.1 L393.0,875.1 L397.8,881.6 L402.5,884.3 L407.2,888.8 L411.9,894.4 L417.8,898.1 L423.7,902.6 L429.6,905.3 L435.4,909.0 L441.3,913.1 L447.2,916.0 L453.1,918.5 L459.0,921.7 L464.9,924.0 L470.8,927.2 L476.7,929.8 L482.5,932.2 L488.4,933.5 L494.3,935.0 L500.2,936.5 L505.0,936.5 L509.8,936.8 L514.5,937.2 L519.3,937.4 L525.2,937.8 L531.1,938.6 L537.0,939.2 L542.8,939.5 L548.7,939.8 L554.6,940.2 L560.5,940.1 L566.4,940.4 L572.3,940.3 L576.9,940.4 L581.4,940.6 L586.0,940.5 L590.6,940.3 L595.1,940.6 L599.7,940.5 L604.3,940.5 L608.8,940.2 L613.4,940.5 L618.0,940.3 L622.5,940.5 L627.1,940.4 L631.7,940.6 L636.2,940.5 L640.8,940.6 L645.4,940.4 L649.9,940.5 L654.5,940.5 L659.1,940.6 L663.6,940.4 L668.2,940.6 L672.8,940.6 L677.3,940.5 L681.9,940.7 L686.5,940.7 L691.0,940.4 L695.6,940.4 L700.2,940.3 L704.7,940.6 L709.3,940.6 L713.9,940.4 L718.4,940.5 L723.0,940.5 L727.6,940.5 L732.1,940.3 L736.7,940.6 L741.3,940.5 L745.8,940.5 L750.4,940.4 L755.0,940.5 L759.5,940.4" fill="none" stroke="#ff1020" stroke-width="3.8" stroke-linejoin="round" stroke-linecap="round"/>
<path d="M278.3,700.9 L283.3,710.0 L288.2,719.6 L293.2,727.2 L297.9,735.8 L302.6,744.8 L307.3,753.6 L312.0,760.7 L316.7,770.1 L321.4,778.2 L326.2,783.8 L330.9,792.0 L335.6,798.4 L342.6,812.1 L347.4,818.2 L352.1,824.5 L356.8,830.1 L361.5,836.0 L366.2,841.5 L370.9,848.5 L375.6,853.6 L380.3,859.5 L385.0,864.7 L389.7,868.5 L394.5,874.9 L399.2,877.3 L403.9,882.5 L408.6,886.3 L413.3,890.7 L419.2,894.1 L425.1,900.1 L431.0,903.0 L436.9,905.7 L442.7,910.7 L448.6,912.9 L454.5,917.0 L460.4,919.4 L466.3,923.0 L472.2,925.3 L478.1,927.6 L484.0,929.8 L489.8,931.5 L495.7,933.0 L501.6,934.4 L507.5,935.2 L513.4,936.4 L519.3,937.3 L525.2,938.1 L531.1,938.7 L537.0,939.1 L542.8,939.3 L548.7,939.9 L554.6,939.8 L560.5,940.0 L566.4,940.3 L572.3,940.5 L576.9,940.2 L581.4,940.5 L586.0,940.6 L590.6,940.4 L595.1,940.4 L599.7,940.3 L604.3,940.3 L608.8,940.7 L613.4,940.4 L618.0,940.7 L622.5,940.6 L627.1,940.5 L631.7,940.3 L636.2,940.7 L640.8,940.4 L645.4,940.4 L649.9,940.3 L654.5,940.7 L659.1,940.4 L663.6,940.3 L668.2,940.4 L672.8,940.2 L677.3,940.5 L681.9,940.4 L686.5,940.3 L691.0,940.6 L695.6,940.6 L700.2,940.2 L704.7,940.4 L709.3,940.3 L713.9,940.6 L718.4,940.6 L723.0,940.3 L727.6,940.3 L732.1,940.3 L736.7,940.7 L741.3,940.3 L745.8,940.5 L750.4,940.4 L755.0,940.5 L759.5,940.4" fill="none" stroke="#111" stroke-width="4.2" stroke-linejoin="round" stroke-linecap="round"/>
<path d="M278.3,631.6 L282.6,647.8 L289.6,655.0 L294.9,667.3 L300.2,676.7 L305.0,686.1 L309.7,694.5 L314.4,703.2 L319.1,712.0 L323.8,720.1 L328.5,728.1 L333.2,737.3 L337.9,745.2 L342.6,752.0 L347.4,758.4 L352.1,764.8 L356.8,771.9 L361.5,778.9 L366.2,785.1 L370.9,790.8 L375.6,799.8 L380.3,806.0 L385.0,813.4 L389.7,819.7 L394.5,825.4 L399.2,830.9 L403.9,836.7 L408.6,840.0 L413.3,844.8 L419.2,851.3 L425.1,854.8 L431.0,860.4 L436.9,866.5 L442.7,869.2 L448.6,875.9 L454.5,879.7 L460.4,883.1 L466.3,886.9 L472.2,892.3 L478.1,896.7 L484.0,898.9 L489.8,902.7 L495.7,905.8 L501.6,908.6 L507.5,911.1 L513.4,913.6 L519.3,917.7 L525.2,920.6 L531.1,921.1 L537.0,923.8 L542.8,926.5 L548.7,928.2 L554.6,929.9 L560.5,931.0 L566.4,932.8 L572.3,934.3 L578.2,935.5 L584.1,936.5 L590.0,937.4 L595.8,938.4 L601.7,938.6 L607.6,939.4 L613.5,939.8 L619.4,939.9 L625.3,939.9 L630.3,940.0 L635.4,940.4 L640.4,940.0 L645.5,940.3 L650.5,940.3 L655.6,940.2 L660.6,940.5 L665.3,940.2 L670.0,940.2 L674.7,940.4 L679.5,940.2 L684.2,940.2 L688.9,940.5 L693.6,940.5 L698.3,940.6 L703.0,940.2 L707.7,940.4 L712.4,940.3 L717.1,940.5 L721.8,940.4 L726.6,940.6 L731.3,940.4 L736.0,940.2 L740.7,940.5 L745.4,940.3 L750.1,940.5 L754.8,940.4 L759.5,940.4" fill="none" stroke="#1a1aff" stroke-width="4.4" stroke-linejoin="round" stroke-linecap="round"/>
<path d="M278.3,599.5 L281.9,600.7 L286.1,610.4 L294.9,616.5 L300.2,626.1 L307.3,641.2 L314.4,654.9 L319.1,661.4 L323.8,667.4 L328.5,674.8 L333.2,684.5 L337.9,694.9 L342.6,702.9 L349.7,714.2 L358.5,721.8 L364.7,737.1 L370.9,755.4 L375.6,760.4 L380.3,766.9 L385.0,774.6 L389.7,778.4 L394.5,784.8 L399.2,788.5 L403.9,793.9 L408.6,801.1 L413.3,804.9 L419.2,812.6 L425.1,816.8 L431.0,822.9 L436.9,830.9 L442.7,836.1 L448.6,840.8 L454.5,847.0 L460.4,855.7 L466.3,861.4 L472.2,867.7 L478.1,871.8 L484.0,878.9 L489.8,883.5 L495.7,888.5 L501.6,894.1 L507.5,898.9 L513.4,902.3 L519.3,906.6 L525.2,909.5 L531.1,914.8 L537.0,917.8 L542.8,920.6 L548.7,922.0 L554.6,925.4 L560.5,926.5 L566.4,928.6 L572.3,930.6 L578.2,932.2 L584.1,933.5 L590.0,934.9 L595.8,935.8 L601.7,936.9 L607.6,937.7 L613.5,938.7 L619.4,939.1 L625.3,939.9 L630.3,939.6 L635.4,939.9 L640.4,940.2 L645.5,940.2 L650.5,940.2 L655.6,940.3 L660.6,940.2 L665.3,940.3 L670.0,940.3 L674.7,940.4 L679.5,940.4 L684.2,940.6 L688.9,940.3 L693.6,940.3 L698.3,940.3 L703.0,940.3 L707.7,940.3 L712.4,940.3 L717.1,940.4 L721.8,940.2 L726.6,940.6 L731.3,940.4 L736.0,940.6 L740.7,940.5 L745.4,940.5 L750.1,940.4 L754.8,940.6 L759.5,940.4" fill="none" stroke="#007a33" stroke-width="4.4" stroke-linejoin="round" stroke-linecap="round"/>
<rect x="262" y="568" width="513" height="411" fill="none" stroke="#333" stroke-width="3.5"/>
<line x1="253" y1="940.5" x2="262" y2="940.5" stroke="#333" stroke-width="3"/>
<line x1="253" y1="865.9" x2="262" y2="865.9" stroke="#333" stroke-width="3"/>
<line x1="253" y1="791.3" x2="262" y2="791.3" stroke="#333" stroke-width="3"/>
<line x1="253" y1="716.7" x2="262" y2="716.7" stroke="#333" stroke-width="3"/>
<line x1="253" y1="642.1" x2="262" y2="642.1" stroke="#333" stroke-width="3"/>
<line x1="257" y1="903.2" x2="262" y2="903.2" stroke="#333" stroke-width="2.2"/>
<line x1="257" y1="828.6" x2="262" y2="828.6" stroke="#333" stroke-width="2.2"/>
<line x1="257" y1="754.0" x2="262" y2="754.0" stroke="#333" stroke-width="2.2"/>
<line x1="257" y1="679.4" x2="262" y2="679.4" stroke="#333" stroke-width="2.2"/>
<line x1="257" y1="604.8" x2="262" y2="604.8" stroke="#333" stroke-width="2.2"/>
<line x1="358.0" y1="979" x2="358.0" y2="987" stroke="#333" stroke-width="3"/>
<line x1="518.0" y1="979" x2="518.0" y2="987" stroke="#333" stroke-width="3"/>
<line x1="678.0" y1="979" x2="678.0" y2="987" stroke="#333" stroke-width="3"/>
<line x1="278.0" y1="979" x2="278.0" y2="984" stroke="#333" stroke-width="2.5"/>
<line x1="438.0" y1="979" x2="438.0" y2="984" stroke="#333" stroke-width="2.5"/>
<line x1="598.0" y1="979" x2="598.0" y2="984" stroke="#333" stroke-width="2.5"/>
<line x1="758.0" y1="979" x2="758.0" y2="984" stroke="#333" stroke-width="2.5"/>
<text transform="translate(196.0,582.0) scale(1.371,1)" x="-2.6" y="0" font-size="35.0" fill="#262626" stroke="#262626" stroke-width="0.55" stroke-linejoin="round">10</text>
<text transform="translate(218.0,654.6) scale(1.581,1)" x="-1.6" y="0" font-size="35.0" fill="#262626" stroke="#262626" stroke-width="0.55" stroke-linejoin="round">8</text>
<text transform="translate(218.0,729.2) scale(1.598,1)" x="-1.8" y="0" font-size="35.0" fill="#262626" stroke="#262626" stroke-width="0.55" stroke-linejoin="round">6</text>
<text transform="translate(216.0,803.8) scale(1.584,1)" x="-0.7" y="0" font-size="35.0" fill="#262626" stroke="#262626" stroke-width="0.55" stroke-linejoin="round">4</text>
<text transform="translate(218.0,878.4) scale(1.564,1)" x="-1.4" y="0" font-size="35.0" fill="#262626" stroke="#262626" stroke-width="0.55" stroke-linejoin="round">5</text>
<text transform="translate(217.0,953.0) scale(1.607,1)" x="-1.4" y="0" font-size="35.0" fill="#262626" stroke="#262626" stroke-width="0.55" stroke-linejoin="round">0</text>
<text transform="translate(325.0,1018.0) scale(1.538,1)" x="-1.5" y="0" font-size="32.9" fill="#262626" stroke="#262626" stroke-width="0.55" stroke-linejoin="round">-50</text>
<text transform="translate(510.5,1018.0) scale(1.585,1)" x="-1.3" y="0" font-size="32.9" fill="#262626" stroke="#262626" stroke-width="0.55" stroke-linejoin="round">0</text>
<text transform="translate(652.0,1018.0) scale(1.500,1)" x="-1.3" y="0" font-size="32.9" fill="#262626" stroke="#262626" stroke-width="0.55" stroke-linejoin="round">50</text>
<text transform="translate(462.0,1063.0) scale(1.327,1)" x="-3.2" y="0" font-size="37.7" fill="#262626" font-style="italic" stroke="#262626" stroke-width="0.55" stroke-linejoin="round">V</text>
<text transform="translate(492.0,1075.0) scale(1.262,1)" x="-1.1" y="0" font-size="26.4" fill="#262626" stroke="#262626" stroke-width="0.55" stroke-linejoin="round">g</text>
<text transform="translate(523.0,1065.0) scale(1.426,1)" x="-2.3" y="0" font-size="37.7" fill="#262626" stroke="#262626" stroke-width="0.55" stroke-linejoin="round">(V)</text>
<text transform="translate(166.0,841.0) rotate(-90) scale(0.782,1)" x="-2.3" y="0" font-size="52.2" fill="#262626" stroke="#262626" stroke-width="0.55" stroke-linejoin="round">-</text>
<text transform="translate(166.0,829.0) rotate(-90) scale(0.767,1)" x="-2.1" y="0" font-size="52.2" fill="#262626" font-style="italic" stroke="#262626" stroke-width="0.55" stroke-linejoin="round">I</text>
<text transform="translate(178.0,820.0) rotate(-90) scale(0.799,1)" x="-1.4" y="0" font-size="34.5" fill="#262626" stroke="#262626" stroke-width="0.55" stroke-linejoin="round">ds</text>
<text transform="translate(166.0,784.0) rotate(-90) scale(0.762,1)" x="-3.1" y="0" font-size="52.2" fill="#262626" stroke="#262626" stroke-width="0.55" stroke-linejoin="round">(µA)</text>
<line x1="422" y1="610" x2="500" y2="610" stroke="#007a33" stroke-width="3.4"/>
<text transform="translate(525.0,624.0) scale(1.355,1)" x="-1.5" y="0" font-size="37.9" fill="#007a33" stroke="#007a33" stroke-width="0.55" stroke-linejoin="round">500 nm</text>
<line x1="422" y1="653.5" x2="500" y2="653.5" stroke="#1a1aff" stroke-width="3.4"/>
<text transform="translate(525.0,667.7) scale(1.355,1)" x="-1.5" y="0" font-size="37.9" fill="#1a1aff" stroke="#1a1aff" stroke-width="0.55" stroke-linejoin="round">300 nm</text>
<line x1="422" y1="695.6" x2="500" y2="695.6" stroke="#ff1020" stroke-width="3.4"/>
<text transform="translate(525.0,710.8) scale(1.358,1)" x="-1.7" y="0" font-size="37.9" fill="#ff1020" stroke="#ff1020" stroke-width="0.55" stroke-linejoin="round">900 nm</text>
<line x1="422" y1="739" x2="500" y2="739" stroke="#9a20f0" stroke-width="3.4"/>
<text transform="translate(525.0,754.0) scale(1.360,1)" x="-1.9" y="0" font-size="37.9" fill="#9a20f0" stroke="#9a20f0" stroke-width="0.55" stroke-linejoin="round">200 nm</text>
<line x1="422" y1="781.4" x2="500" y2="781.4" stroke="#111" stroke-width="3.4"/>
<text transform="translate(525.0,799.0) scale(1.321,1)" x="-3.1" y="0" font-size="38.4" fill="#111" stroke="#111" stroke-width="0.55" stroke-linejoin="round">Dark</text>
<text transform="translate(81.0,626.0) scale(1.093,1)" x="-4.9" y="0" font-size="121.4" fill="#000" font-weight="bold" stroke="#000" stroke-width="0.55" stroke-linejoin="round">d</text>
</g>
<g id="panel_e">
<rect x="1080" y="570" width="1035" height="405" fill="url(#specg)" stroke="#1a1a1a" stroke-width="3.5"/>
<path d="M1087.0,959.5 L1094.3,958.5 L1101.5,956.5 L1108.8,953.3 L1116.1,944.9 L1117.7,941.9 L1124.2,765.2 L1131.7,715.1 L1138.2,629.5 L1145.2,599.6 L1145.4,598.6 L1152.4,598.6 L1159.7,600.8 L1167.0,604.1 L1174.2,606.6 L1181.5,609.0 L1188.8,612.1 L1196.0,615.8 L1203.3,617.4 L1210.6,614.2 L1217.9,609.7 L1225.1,607.2 L1232.4,606.0 L1239.7,605.1 L1246.9,618.3 L1254.2,620.2 L1261.5,622.6 L1268.7,629.2 L1276.0,634.1 L1283.3,629.7 L1290.6,622.6 L1297.8,620.4 L1305.1,625.0 L1312.4,632.7 L1319.6,635.2 L1326.9,636.8 L1334.2,639.3 L1341.4,646.6 L1348.7,652.6 L1356.0,645.5 L1363.3,637.8 L1370.5,631.2 L1377.8,625.7 L1385.1,623.0 L1392.3,620.7 L1399.6,618.9 L1406.9,617.3 L1414.1,616.1 L1421.4,614.9 L1428.7,613.8 L1436.0,612.6 L1443.2,611.2 L1450.5,609.8 L1457.8,608.2 L1465.0,606.5 L1472.3,604.8 L1479.6,603.5 L1486.8,604.7 L1494.1,602.5 L1501.4,600.6 L1508.7,598.9 L1515.9,597.4 L1523.2,596.2 L1530.5,595.2 L1537.7,594.4 L1545.0,593.7 L1552.3,593.0 L1559.5,592.2 L1566.8,591.8 L1574.1,591.6 L1581.4,591.4 L1588.6,591.4 L1595.9,591.6 L1603.2,592.2 L1610.4,592.7 L1617.7,593.6 L1625.0,594.5 L1632.2,595.5 L1639.5,596.5 L1646.8,597.5 L1654.1,598.5 L1661.3,599.7 L1668.6,601.1 L1675.9,602.6 L1683.1,604.1 L1690.4,605.5 L1697.7,606.7 L1704.9,607.9 L1712.2,609.2 L1719.5,610.7 L1726.8,612.1 L1734.0,613.6 L1741.3,615.0 L1748.6,616.5 L1755.8,617.9 L1763.1,619.1 L1770.4,620.3 L1777.6,621.4 L1784.9,622.4 L1792.2,623.4 L1799.5,624.4 L1806.7,625.7 L1814.0,628.0 L1821.3,630.3 L1828.5,631.4 L1835.8,632.4 L1843.1,632.9 L1850.3,633.2 L1857.6,633.6 L1864.9,634.0 L1872.2,634.3 L1879.4,634.0 L1886.7,633.7 L1894.0,634.0 L1901.2,634.3 L1908.5,635.1 L1915.8,636.0 L1923.0,636.5 L1925.8,636.6 L1932.3,818.2 L1939.5,838.7 L1946.3,858.9 L1953.8,880.0 L1961.6,902.8 L1969.1,904.4 L1975.6,924.6 L1982.7,945.1 L1990.9,949.4 L2000.6,953.3 L2010.4,956.5 L2018.5,958.1 L2026.7,946.8 L2033.2,958.1 L2039.4,958.4 L2046.6,958.7 L2053.9,958.8 L2061.2,958.8 L2068.4,958.8 L2075.7,958.8 L2083.0,958.8 L2090.3,958.8 L2097.5,958.8 L2104.8,958.8" fill="none" stroke="#000" stroke-width="3"/>
<clipPath id="clipe"><rect x="1080" y="570" width="1035" height="405"/></clipPath><g clip-path="url(#clipe)" fill="#00f200" stroke="#053c05" stroke-width="1.9" stroke-opacity="0.9"><rect x="1076.0" y="951.5" width="22" height="16"/><rect x="1083.3" y="950.5" width="22" height="16"/><rect x="1090.5" y="948.5" width="22" height="16"/><rect x="1097.8" y="945.3" width="22" height="16"/><rect x="1105.1" y="936.9" width="22" height="16"/><rect x="1106.7" y="933.9" width="22" height="16"/><rect x="1113.2" y="757.2" width="22" height="16"/><rect x="1120.7" y="707.1" width="22" height="16"/><rect x="1127.2" y="621.5" width="22" height="16"/><rect x="1134.2" y="591.6" width="22" height="16"/><rect x="1134.4" y="590.6" width="22" height="16"/><rect x="1141.4" y="590.6" width="22" height="16"/><rect x="1148.7" y="592.8" width="22" height="16"/><rect x="1156.0" y="596.1" width="22" height="16"/><rect x="1163.2" y="598.6" width="22" height="16"/><rect x="1170.5" y="601.0" width="22" height="16"/><rect x="1177.8" y="604.1" width="22" height="16"/><rect x="1185.0" y="607.8" width="22" height="16"/><rect x="1192.3" y="609.4" width="22" height="16"/><rect x="1199.6" y="606.2" width="22" height="16"/><rect x="1206.9" y="601.7" width="22" height="16"/><rect x="1214.1" y="599.2" width="22" height="16"/><rect x="1221.4" y="598.0" width="22" height="16"/><rect x="1228.7" y="597.1" width="22" height="16"/><rect x="1235.9" y="610.3" width="22" height="16"/><rect x="1243.2" y="612.2" width="22" height="16"/><rect x="1250.5" y="614.6" width="22" height="16"/><rect x="1257.7" y="621.2" width="22" height="16"/><rect x="1265.0" y="626.1" width="22" height="16"/><rect x="1272.3" y="621.7" width="22" height="16"/><rect x="1279.6" y="614.6" width="22" height="16"/><rect x="1286.8" y="612.4" width="22" height="16"/><rect x="1294.1" y="617.0" width="22" height="16"/><rect x="1301.4" y="624.7" width="22" height="16"/><rect x="1308.6" y="627.2" width="22" height="16"/><rect x="1315.9" y="628.8" width="22" height="16"/><rect x="1323.2" y="631.3" width="22" height="16"/><rect x="1330.4" y="638.6" width="22" height="16"/><rect x="1337.7" y="644.6" width="22" height="16"/><rect x="1345.0" y="637.5" width="22" height="16"/><rect x="1352.3" y="629.8" width="22" height="16"/><rect x="1359.5" y="623.2" width="22" height="16"/><rect x="1366.8" y="617.7" width="22" height="16"/><rect x="1374.1" y="615.0" width="22" height="16"/><rect x="1381.3" y="612.7" width="22" height="16"/><rect x="1388.6" y="610.9" width="22" height="16"/><rect x="1395.9" y="609.3" width="22" height="16"/><rect x="1403.1" y="608.1" width="22" height="16"/><rect x="1410.4" y="606.9" width="22" height="16"/><rect x="1417.7" y="605.8" width="22" height="16"/><rect x="1425.0" y="604.6" width="22" height="16"/><rect x="1432.2" y="603.2" width="22" height="16"/><rect x="1439.5" y="601.8" width="22" height="16"/><rect x="1446.8" y="600.2" width="22" height="16"/><rect x="1454.0" y="598.5" width="22" height="16"/><rect x="1461.3" y="596.8" width="22" height="16"/><rect x="1468.6" y="595.5" width="22" height="16"/><rect x="1475.8" y="596.7" width="22" height="16"/><rect x="1483.1" y="594.5" width="22" height="16"/><rect x="1490.4" y="592.6" width="22" height="16"/><rect x="1497.7" y="590.9" width="22" height="16"/><rect x="1504.9" y="589.4" width="22" height="16"/><rect x="1512.2" y="588.2" width="22" height="16"/><rect x="1519.5" y="587.2" width="22" height="16"/><rect x="1526.7" y="586.4" width="22" height="16"/><rect x="1534.0" y="585.7" width="22" height="16"/><rect x="1541.3" y="585.0" width="22" height="16"/><rect x="1548.5" y="584.2" width="22" height="16"/><rect x="1555.8" y="583.8" width="22" height="16"/><rect x="1563.1" y="583.6" width="22" height="16"/><rect x="1570.4" y="583.4" width="22" height="16"/><rect x="1577.6" y="583.4" width="22" height="16"/><rect x="1584.9" y="583.6" width="22" height="16"/><rect x="1592.2" y="584.2" width="22" height="16"/><rect x="1599.4" y="584.7" width="22" height="16"/><rect x="1606.7" y="585.6" width="22" height="16"/><rect x="1614.0" y="586.5" width="22" height="16"/><rect x="1621.2" y="587.5" width="22" height="16"/><rect x="1628.5" y="588.5" width="22" height="16"/><rect x="1635.8" y="589.5" width="22" height="16"/><rect x="1643.1" y="590.5" width="22" height="16"/><rect x="1650.3" y="591.7" width="22" height="16"/><rect x="1657.6" y="593.1" width="22" height="16"/><rect x="1664.9" y="594.6" width="22" height="16"/><rect x="1672.1" y="596.1" width="22" height="16"/><rect x="1679.4" y="597.5" width="22" height="16"/><rect x="1686.7" y="598.7" width="22" height="16"/><rect x="1693.9" y="599.9" width="22" height="16"/><rect x="1701.2" y="601.2" width="22" height="16"/><rect x="1708.5" y="602.7" width="22" height="16"/><rect x="1715.8" y="604.1" width="22" height="16"/><rect x="1723.0" y="605.6" width="22" height="16"/><rect x="1730.3" y="607.0" width="22" height="16"/><rect x="1737.6" y="608.5" width="22" height="16"/><rect x="1744.8" y="609.9" width="22" height="16"/><rect x="1752.1" y="611.1" width="22" height="16"/><rect x="1759.4" y="612.3" width="22" height="16"/><rect x="1766.6" y="613.4" width="22" height="16"/><rect x="1773.9" y="614.4" width="22" height="16"/><rect x="1781.2" y="615.4" width="22" height="16"/><rect x="1788.5" y="616.4" width="22" height="16"/><rect x="1795.7" y="617.7" width="22" height="16"/><rect x="1803.0" y="620.0" width="22" height="16"/><rect x="1810.3" y="622.3" width="22" height="16"/><rect x="1817.5" y="623.4" width="22" height="16"/><rect x="1824.8" y="624.4" width="22" height="16"/><rect x="1832.1" y="624.9" width="22" height="16"/><rect x="1839.3" y="625.2" width="22" height="16"/><rect x="1846.6" y="625.6" width="22" height="16"/><rect x="1853.9" y="626.0" width="22" height="16"/><rect x="1861.2" y="626.3" width="22" height="16"/><rect x="1868.4" y="626.0" width="22" height="16"/><rect x="1875.7" y="625.7" width="22" height="16"/><rect x="1883.0" y="626.0" width="22" height="16"/><rect x="1890.2" y="626.3" width="22" height="16"/><rect x="1897.5" y="627.1" width="22" height="16"/><rect x="1904.8" y="628.0" width="22" height="16"/><rect x="1912.0" y="628.5" width="22" height="16"/><rect x="1914.8" y="628.6" width="22" height="16"/><rect x="1921.3" y="810.2" width="22" height="16"/><rect x="1928.5" y="830.7" width="22" height="16"/><rect x="1935.3" y="850.9" width="22" height="16"/><rect x="1942.8" y="872.0" width="22" height="16"/><rect x="1950.6" y="894.8" width="22" height="16"/><rect x="1958.1" y="896.4" width="22" height="16"/><rect x="1964.6" y="916.6" width="22" height="16"/><rect x="1971.7" y="937.1" width="22" height="16"/><rect x="1979.9" y="941.4" width="22" height="16"/><rect x="1989.6" y="945.3" width="22" height="16"/><rect x="1999.4" y="948.5" width="22" height="16"/><rect x="2007.5" y="950.1" width="22" height="16"/><rect x="2015.7" y="938.8" width="22" height="16"/><rect x="2022.2" y="950.1" width="22" height="16"/><rect x="2028.4" y="950.4" width="22" height="16"/><rect x="2035.6" y="950.7" width="22" height="16"/><rect x="2042.9" y="950.8" width="22" height="16"/><rect x="2050.2" y="950.8" width="22" height="16"/><rect x="2057.4" y="950.8" width="22" height="16"/><rect x="2064.7" y="950.8" width="22" height="16"/><rect x="2072.0" y="950.8" width="22" height="16"/><rect x="2079.3" y="950.8" width="22" height="16"/><rect x="2086.5" y="950.8" width="22" height="16"/><rect x="2093.8" y="950.8" width="22" height="16"/></g>
<line x1="1069" y1="957.5" x2="1080" y2="957.5" stroke="#1a1a1a" stroke-width="3"/>
<line x1="1069" y1="869.0" x2="1080" y2="869.0" stroke="#1a1a1a" stroke-width="3"/>
<line x1="1069" y1="780.5" x2="1080" y2="780.5" stroke="#1a1a1a" stroke-width="3"/>
<line x1="1069" y1="692.0" x2="1080" y2="692.0" stroke="#1a1a1a" stroke-width="3"/>
<line x1="1069" y1="603.5" x2="1080" y2="603.5" stroke="#1a1a1a" stroke-width="3"/>
<line x1="1087.0" y1="975" x2="1087.0" y2="984" stroke="#1a1a1a" stroke-width="3"/>
<line x1="1377.6" y1="975" x2="1377.6" y2="984" stroke="#1a1a1a" stroke-width="3"/>
<line x1="1668.2" y1="975" x2="1668.2" y2="984" stroke="#1a1a1a" stroke-width="3"/>
<line x1="1958.8" y1="975" x2="1958.8" y2="984" stroke="#1a1a1a" stroke-width="3"/>
<text transform="translate(931.0,615.5) scale(1.439,1)" x="-1.7" y="0" font-size="34.3" fill="#262626" stroke="#262626" stroke-width="0.55" stroke-linejoin="round">20000</text>
<text transform="translate(934.0,704.0) scale(1.420,1)" x="-2.6" y="0" font-size="34.3" fill="#262626" stroke="#262626" stroke-width="0.55" stroke-linejoin="round">15000</text>
<text transform="translate(934.0,792.5) scale(1.420,1)" x="-2.6" y="0" font-size="34.3" fill="#262626" stroke="#262626" stroke-width="0.55" stroke-linejoin="round">10000</text>
<text transform="translate(959.0,881.0) scale(1.424,1)" x="-1.4" y="0" font-size="34.3" fill="#262626" stroke="#262626" stroke-width="0.55" stroke-linejoin="round">5000</text>
<text transform="translate(1036.0,969.5) scale(1.701,1)" x="-1.4" y="0" font-size="34.3" fill="#262626" stroke="#262626" stroke-width="0.55" stroke-linejoin="round">0</text>
<text transform="translate(1049.0,1017.0) scale(1.384,1)" x="-1.7" y="0" font-size="34.3" fill="#262626" stroke="#262626" stroke-width="0.55" stroke-linejoin="round">200</text>
<text transform="translate(1339.0,1017.0) scale(1.377,1)" x="-0.7" y="0" font-size="34.3" fill="#262626" stroke="#262626" stroke-width="0.55" stroke-linejoin="round">400</text>
<text transform="translate(1631.0,1017.0) scale(1.384,1)" x="-1.7" y="0" font-size="34.3" fill="#262626" stroke="#262626" stroke-width="0.55" stroke-linejoin="round">600</text>
<text transform="translate(1921.0,1017.0) scale(1.399,1)" x="-1.5" y="0" font-size="34.3" fill="#262626" stroke="#262626" stroke-width="0.55" stroke-linejoin="round">800</text>
<text transform="translate(1399.0,1061.5) scale(1.396,1)" x="-0.2" y="0" font-size="36.5" fill="#262626" stroke="#262626" stroke-width="0.55" stroke-linejoin="round">Wavelength (nm)</text>
<text transform="translate(898.0,844.0) rotate(-90) scale(0.880,1)" x="-1.7" y="0" font-size="55.1" fill="#262626" font-style="italic" stroke="#262626" stroke-width="0.55" stroke-linejoin="round">R</text>
<text transform="translate(898.0,799.0) rotate(-90) scale(0.673,1)" x="-3.3" y="0" font-size="55.1" fill="#262626" stroke="#262626" stroke-width="0.55" stroke-linejoin="round">(A/W)</text>
<text transform="translate(836.0,604.0) scale(1.354,1)" x="-4.0" y="0" font-size="100.0" fill="#000" font-weight="bold" stroke="#000" stroke-width="0.55" stroke-linejoin="round">e</text>
</g>
<g id="panel_f">
<path d="M47,1791 L316,1492 L1049,1492 L1166,1633 L1306.5,1794.5 Z" fill="url(#floorg)"/>
<path d="M142,1680 L725,1680 L725,1793.4 L142,1791.5 Z" fill="url(#reflg)"/>
<path d="M142,1680 L725,1680 L725,1793.4 L142,1791.5 Z" fill="url(#reflg2)"/>
<rect x="141" y="1613" width="584" height="68" fill="url(#sig)"/>
<path d="M136.8,1553 L147,1538 L722,1538 L722,1614 L141,1614 Z" fill="#52c62e"/>
<path d="M136.8,1553 L147,1538 L722,1538 L722,1553 Z" fill="#62cc32"/>
<rect x="141" y="1600" width="581" height="14" fill="url(#sio2b)"/>
<rect x="704" y="1469" width="17.5" height="85" fill="#2ec236"/>
<path d="M153,1489 L706,1489 L706,1553.5 L156,1553.5 Z" fill="#ff6a14"/>
<rect x="151.5" y="1478.5" width="554.5" height="11" fill="#12c4ec"/>
<rect x="151.5" y="1478.3" width="554.5" height="2" fill="#1e9cc8" opacity="0.8"/>
<rect x="151.5" y="1488.3" width="554.5" height="1.6" fill="#2a8fb5" opacity="0.7"/>
<rect x="151.5" y="1481.6" width="46" height="4" fill="#2a9ad0" opacity="0.8"/>
<path d="M249.4,1478.5 L249.4,1379 L252.3,1388 L327.8,1335 L614,1335 L607.2,1390 L607.2,1478.5 Z" fill="#ff6a14"/>
<path d="M145.6,1367.4 L249.8,1379 L249.8,1478.5 L152.4,1478.5 Z" fill="#dbe300"/>
<path d="M145.6,1367.4 L240.6,1316.4 L312,1316.4 L249.5,1380 Z" fill="#dde800"/>
<path d="M311,1316.4 L327.5,1319.5 L330.5,1335.6 L252.3,1389 L248.4,1379.5 Z" fill="#a6c52c"/>
<path d="M620,1316.4 L704.2,1316.4 L706,1478.5 L607.2,1478.5 L607.2,1390 Z" fill="#e6e800"/>
<path d="M620,1316.4 L632,1316.4 L616,1400 L616,1478.5 L607.2,1478.5 L607.2,1390 Z" fill="#d8e000" opacity="0.7"/>
<g fill="#0c8ac2" stroke="#2c6a80" stroke-width="1.5"><ellipse cx="332.7" cy="1337.0" rx="4.0" ry="2.3" transform="rotate(-10 332.7 1337.0)"/><ellipse cx="370.9" cy="1337.0" rx="4.0" ry="2.3" transform="rotate(10 370.9 1337.0)"/><ellipse cx="308.2" cy="1357.6" rx="5.1" ry="2.9" transform="rotate(10 308.2 1357.6)"/><ellipse cx="329.7" cy="1353.7" rx="4.9" ry="2.8" transform="rotate(-10 329.7 1353.7)"/><ellipse cx="374.8" cy="1354.6" rx="4.9" ry="2.8" transform="rotate(0 374.8 1354.6)"/><ellipse cx="292.5" cy="1366.4" rx="5.6" ry="3.2" transform="rotate(10 292.5 1366.4)"/><ellipse cx="317.0" cy="1367.4" rx="5.6" ry="3.2" transform="rotate(0 317.0 1367.4)"/><ellipse cx="366.9" cy="1367.4" rx="5.6" ry="3.2" transform="rotate(10 366.9 1367.4)"/><ellipse cx="403.2" cy="1369.3" rx="5.8" ry="3.3" transform="rotate(-20 403.2 1369.3)"/><ellipse cx="284.7" cy="1374.2" rx="6.0" ry="3.4" transform="rotate(10 284.7 1374.2)"/><ellipse cx="311.1" cy="1380.1" rx="6.4" ry="3.6" transform="rotate(-20 311.1 1380.1)"/><ellipse cx="351.3" cy="1381.1" rx="6.4" ry="3.7" transform="rotate(0 351.3 1381.1)"/><ellipse cx="387.5" cy="1376.2" rx="6.1" ry="3.5" transform="rotate(0 387.5 1376.2)"/><ellipse cx="418.9" cy="1383.1" rx="6.5" ry="3.7" transform="rotate(10 418.9 1383.1)"/><ellipse cx="268.0" cy="1386.0" rx="6.7" ry="3.8" transform="rotate(-10 268.0 1386.0)"/><ellipse cx="286.6" cy="1386.0" rx="6.7" ry="3.8" transform="rotate(-10 286.6 1386.0)"/><ellipse cx="332.7" cy="1389.9" rx="6.9" ry="3.9" transform="rotate(0 332.7 1389.9)"/><ellipse cx="382.6" cy="1387.0" rx="6.7" ry="3.8" transform="rotate(10 382.6 1387.0)"/><ellipse cx="339.5" cy="1346.8" rx="4.5" ry="2.6" transform="rotate(10 339.5 1346.8)"/><ellipse cx="337.6" cy="1363.5" rx="5.4" ry="3.1" transform="rotate(0 337.6 1363.5)"/><ellipse cx="340.5" cy="1374.2" rx="6.0" ry="3.4" transform="rotate(0 340.5 1374.2)"/><ellipse cx="409.1" cy="1360.5" rx="5.3" ry="3.0" transform="rotate(-10 409.1 1360.5)"/><ellipse cx="543.6" cy="1344.9" rx="4.4" ry="2.5" transform="rotate(-10 543.6 1344.9)"/><ellipse cx="581.8" cy="1346.8" rx="4.5" ry="2.6" transform="rotate(-10 581.8 1346.8)"/><ellipse cx="597.4" cy="1350.7" rx="4.7" ry="2.7" transform="rotate(10 597.4 1350.7)"/><ellipse cx="587.7" cy="1360.5" rx="5.3" ry="3.0" transform="rotate(0 587.7 1360.5)"/><ellipse cx="567.1" cy="1364.4" rx="5.5" ry="3.1" transform="rotate(-20 567.1 1364.4)"/><ellipse cx="599.4" cy="1370.3" rx="5.8" ry="3.3" transform="rotate(-20 599.4 1370.3)"/><ellipse cx="573.9" cy="1374.2" rx="6.0" ry="3.4" transform="rotate(-10 573.9 1374.2)"/><ellipse cx="589.6" cy="1381.1" rx="6.4" ry="3.7" transform="rotate(10 589.6 1381.1)"/><ellipse cx="541.6" cy="1378.2" rx="6.2" ry="3.6" transform="rotate(-20 541.6 1378.2)"/><ellipse cx="560.2" cy="1386.0" rx="6.7" ry="3.8" transform="rotate(0 560.2 1386.0)"/><ellipse cx="515.2" cy="1376.2" rx="6.1" ry="3.5" transform="rotate(-20 515.2 1376.2)"/><ellipse cx="495.6" cy="1381.1" rx="6.4" ry="3.7" transform="rotate(0 495.6 1381.1)"/><ellipse cx="465.2" cy="1384.0" rx="6.6" ry="3.8" transform="rotate(0 465.2 1384.0)"/><ellipse cx="419.2" cy="1382.1" rx="6.5" ry="3.7" transform="rotate(10 419.2 1382.1)"/><ellipse cx="450.5" cy="1372.3" rx="5.9" ry="3.4" transform="rotate(0 450.5 1372.3)"/><ellipse cx="401.5" cy="1370.3" rx="5.8" ry="3.3" transform="rotate(0 401.5 1370.3)"/><ellipse cx="386.9" cy="1376.2" rx="6.1" ry="3.5" transform="rotate(0 386.9 1376.2)"/><ellipse cx="527.9" cy="1366.4" rx="5.6" ry="3.2" transform="rotate(10 527.9 1366.4)"/><ellipse cx="524.0" cy="1355.6" rx="5.0" ry="2.9" transform="rotate(0 524.0 1355.6)"/><ellipse cx="556.3" cy="1356.6" rx="5.0" ry="2.9" transform="rotate(-10 556.3 1356.6)"/><ellipse cx="600.4" cy="1337.0" rx="4.0" ry="2.3" transform="rotate(0 600.4 1337.0)"/><circle cx="277.8" cy="1413.4" r="9"/><circle cx="318.0" cy="1419.3" r="8.5"/><circle cx="348.3" cy="1404.6" r="9"/><circle cx="387.5" cy="1422.2" r="9"/><circle cx="261.2" cy="1447.7" r="9.5"/><circle cx="344.4" cy="1439.9" r="6.5"/><circle cx="415.9" cy="1439.9" r="8"/><circle cx="303.3" cy="1465.3" r="9"/><circle cx="355.2" cy="1464.4" r="7"/><circle cx="392.4" cy="1466.3" r="8"/><circle cx="431.9" cy="1407.5" r="8"/><circle cx="473.1" cy="1408.5" r="6.5"/><circle cx="387.8" cy="1423.2" r="9.5"/><circle cx="415.3" cy="1439.9" r="8"/><circle cx="449.5" cy="1437.9" r="8.5"/><circle cx="497.5" cy="1430.1" r="8"/><circle cx="477.0" cy="1449.7" r="8"/><circle cx="440.7" cy="1459.5" r="9"/><circle cx="392.7" cy="1466.3" r="8"/><circle cx="506.4" cy="1467.3" r="6.5"/><circle cx="526.9" cy="1422.2" r="8"/><circle cx="563.2" cy="1414.4" r="7"/><circle cx="596.5" cy="1414.4" r="5.5"/><circle cx="539.7" cy="1449.7" r="7.5"/><circle cx="584.7" cy="1448.7" r="6.5"/></g>
<mask id="beamm"><rect x="360" y="1190" width="180" height="170" fill="url(#beamfade)"/></mask>
<rect x="371" y="1196" width="158" height="160" fill="url(#beamg)" mask="url(#beamm)"/>
<ellipse cx="451" cy="1353" rx="84" ry="22" fill="url(#glowg)"/>
<rect x="369.4" y="1125" width="155.4" height="72.4" fill="#003a60"/>
<rect x="352.7" y="1080.5" width="185.6" height="52" fill="#003c63"/>
<rect x="352.7" y="1128" width="185.6" height="5" fill="#012f50"/>
<rect x="743.6" y="1080.5" width="422.6" height="551.3" fill="#fff"/>
<clipPath id="clipin"><rect x="746" y="1083" width="418" height="546"/></clipPath>
<g clip-path="url(#clipin)"><path d="M879.0,1122.6 L826.7,1155.3 M915.9,1099.6 L966.2,1068.1 M889.8,1128.3 L847.3,1154.9 M926.6,1105.3 L965.3,1081.2 M893.7,1138.4 L849.1,1166.3 M930.5,1115.4 L972.6,1089.1 M934.1,1189.4 L911.7,1225.2 M957.1,1152.6 L989.8,1100.2 M946.3,1189.9 L914.8,1240.4 M969.3,1153.1 L993.4,1114.5 M954.2,1197.3 L926.6,1241.5 M977.2,1160.5 L1004.1,1117.3 M824.7,1254.1 L781.4,1302.2 M853.8,1221.8 L897.0,1173.9 M836.7,1256.7 L809.9,1286.5 M865.7,1224.4 L893.0,1194.1 M843.2,1265.3 L802.0,1311.0 M872.2,1233.1 L911.5,1189.4 M855.1,1267.9 L817.0,1310.2 M884.1,1235.7 L915.6,1200.7 M867.3,1227.0 L838.4,1261.5 M891.1,1201.5 L925.5,1160.6 M879.3,1229.2 L848.1,1266.5 M903.1,1203.7 L938.5,1161.5 M972.9,1224.4 L950.4,1263.3 M994.6,1186.8 L1015.3,1151.0 M985.1,1224.4 L960.4,1267.2 M1006.8,1186.8 L1028.2,1149.8 M1067.3,1141.9 L1031.6,1099.2 M1095.2,1175.1 L1133.1,1220.2 M1063.1,1153.3 L1024.3,1107.1 M1091.0,1186.5 L1132.4,1235.9 M1053.7,1158.5 L1015.8,1113.5 M1081.6,1191.8 L1122.6,1240.7 M1106.8,1206.7 L1074.8,1155.5 M1129.8,1243.5 L1162.2,1295.3 M1101.0,1217.4 L1073.5,1173.5 M1124.0,1254.2 L1148.2,1293.0 M1090.9,1221.3 L1070.5,1188.7 M1113.9,1258.1 L1144.0,1306.2 M810.3,1318.7 L778.6,1283.5 M832.3,1345.8 L860.8,1377.4 M806.5,1330.3 L768.8,1288.4 M828.5,1357.3 L855.6,1387.4 M797.3,1335.8 L761.6,1296.3 M819.2,1362.9 L851.7,1399.0 M876.3,1357.7 L847.6,1391.9 M900.1,1332.2 L941.9,1282.4 M888.4,1359.8 L861.4,1392.0 M912.1,1334.3 L949.3,1290.0 M985.3,1341.0 L956.0,1383.0 M1006.8,1313.5 L1034.7,1273.6 M997.5,1342.1 L973.2,1376.8 M1018.9,1314.6 L1054.7,1263.6 M1092.0,1287.9 L1060.9,1243.5 M1116.9,1323.5 L1145.7,1364.7 M1086.8,1298.9 L1055.6,1254.4 M1111.7,1334.5 L1137.0,1370.7 M1076.9,1303.3 L1042.0,1253.5 M1101.8,1338.9 L1136.9,1389.0 M1057.1,1446.0 L1015.4,1475.2 M1092.7,1421.1 L1136.8,1390.1 M1068.2,1451.2 L1015.8,1487.8 M1103.7,1426.3 L1145.7,1396.8 M1072.6,1461.0 L1029.6,1491.1 M1108.1,1436.1 L1152.9,1404.8 M936.9,1455.0 L887.1,1468.3 M971.0,1447.7 L1025.7,1433.0 M945.5,1463.6 L890.6,1478.3 M979.6,1456.4 L1020.6,1445.4 M891.8,1467.8 L849.0,1483.4 M925.1,1457.6 L979.0,1438.0 M901.1,1475.7 L847.3,1495.3 M934.5,1465.5 L992.6,1444.4 M999.8,1414.3 L979.1,1450.2 M1018.8,1385.1 L1047.7,1335.0 M1012.1,1414.4 L983.8,1463.3 M1031.0,1385.2 L1063.2,1329.4 M968.7,1353.2 L922.7,1399.2 M987.3,1334.7 L1014.7,1307.2 M980.5,1356.4 L939.0,1398.0 M999.0,1337.9 L1029.3,1307.6 M1127.7,1253.6 L1103.5,1211.6 M1143.6,1284.6 L1169.4,1329.4 M1121.6,1264.1 L1096.6,1220.8 M1137.4,1295.1 L1162.8,1339.1 M938.3,1274.4 L907.9,1317.7 M953.3,1252.9 L988.1,1203.2 M950.4,1275.5 L913.2,1328.7 M965.4,1254.1 L992.1,1216.0 M1027.0,1191.7 L1005.2,1229.4 M1045.9,1162.5 L1074.3,1113.4 M814.8,1455.1 L761.1,1474.6 M839.4,1446.1 L895.9,1425.6 M824.1,1463.0 L774.5,1481.0 M848.7,1454.0 L898.1,1436.0 M1124.1,1370.1 L1087.7,1318.1 M1139.1,1391.5 L1172.0,1438.5 M1118.9,1381.1 L1084.7,1332.3 M1133.9,1402.6 L1170.3,1454.5 M912.4,1393.7 L884.7,1426.7 M936.1,1368.2 L973.1,1324.2 M924.4,1395.9 L888.4,1438.8 M948.1,1370.4 L981.4,1330.8 M904.0,1165.3 L927.6,1193.4 M1074.4,1144.3 L1095.6,1174.7 M966.9,1123.4 L991.7,1080.4 M875.6,1313.1 L909.5,1258.9 M835.6,1192.0 L871.2,1234.5 M814.4,1325.9 L851.0,1267.2 M809.1,1426.7 L842.4,1389.8 M978.3,1320.5 L1014.7,1372.5 M855.0,1324.4 L881.8,1356.3 M826.5,1372.6 L847.8,1403.0 M863.7,1360.9 L894.8,1307.0 M952.6,1450.7 L983.0,1416.9 M1065.1,1367.8 L1088.5,1337.9 M896.0,1292.5 L936.5,1247.5 M891.8,1471.6 L919.8,1426.8 M849.6,1235.9 L874.5,1192.8 M1122.5,1138.2 L1154.1,1183.3 M1092.9,1225.5 L1123.3,1261.7 M963.2,1403.9 L997.3,1349.3 M1116.6,1284.7 L1140.6,1313.2 M1043.5,1223.9 L1083.5,1281.1 M1074.6,1214.7 L1107.6,1157.5 M912.0,1457.0 L939.3,1426.7 M833.3,1131.3 L870.2,1105.5 M1046.0,1256.5 L1088.9,1226.5 M850.1,1257.9 L894.2,1208.9 M1073.7,1428.7 L1113.6,1384.3 M1130.9,1361.8 L1165.2,1302.4 M844.8,1174.7 L880.6,1128.9 M797.3,1416.6 L824.5,1381.7 M794.6,1264.3 L832.3,1222.4 M902.3,1155.9 L945.7,1125.5 M1004.6,1359.4 L1031.6,1316.1 M1091.4,1461.2 L1131.8,1509.4 M927.5,1256.9 L955.0,1213.0 M930.3,1180.0 L961.3,1140.2 M830.8,1331.5 L849.4,1301.8 M845.0,1147.0 L882.8,1105.1 M817.2,1186.4 L837.3,1151.6 M879.5,1237.9 L914.1,1199.5 M832.7,1289.9 L858.6,1245.0 M899.9,1162.8 L930.1,1198.8 M883.8,1415.7 L916.5,1373.9 M863.4,1461.2 L890.3,1431.4 M979.1,1119.5 L1005.2,1156.8 M1013.3,1143.2 L1049.4,1117.9 M783.8,1544.4 L796.3,1504.2 M801.3,1544.4 L813.8,1504.2 M818.7,1544.4 L831.2,1504.2 M836.2,1544.4 L848.7,1504.2 M853.7,1544.4 L866.2,1504.2 M871.1,1544.4 L883.6,1504.2 M888.6,1544.4 L901.1,1504.2 M906.1,1544.4 L918.6,1504.2 M923.5,1544.4 L936.0,1504.2 M941.0,1544.4 L953.5,1504.2 M958.5,1544.4 L971.0,1504.2 M976.0,1544.4 L988.5,1504.2 M993.4,1544.4 L1005.9,1504.2 M1010.9,1544.4 L1023.4,1504.2 M1028.4,1544.4 L1040.9,1504.2 M1045.8,1544.4 L1058.3,1504.2 M1063.3,1544.4 L1075.8,1504.2 M1080.8,1544.4 L1093.3,1504.2 M1098.2,1544.4 L1110.7,1504.2 M1115.7,1544.4 L1128.2,1504.2 M771.4,1579.1 L749.9,1623.3 M788.9,1579.1 L767.4,1623.3 M806.3,1579.1 L784.8,1623.3 M823.8,1579.1 L802.3,1623.3 M841.3,1579.1 L819.8,1623.3 M858.7,1579.1 L837.2,1623.3 M876.2,1579.1 L854.7,1623.3 M893.7,1579.1 L872.2,1623.3 M911.1,1579.1 L889.6,1623.3 M928.6,1579.1 L907.1,1623.3 M946.1,1579.1 L924.6,1623.3 M963.5,1579.1 L942.0,1623.3 M981.0,1579.1 L959.5,1623.3 M998.5,1579.1 L977.0,1623.3 M1015.9,1579.1 L994.4,1623.3 M1033.4,1579.1 L1011.9,1623.3 M1050.9,1579.1 L1029.4,1623.3 M1068.3,1579.1 L1046.8,1623.3 M1085.8,1579.1 L1064.3,1623.3 M1103.3,1579.1 L1081.8,1623.3 " stroke="#94949c" stroke-width="1.1" fill="none" opacity="0.8"/>
<g fill="#fff" fill-opacity="0.75" stroke="#84848c" stroke-width="1.5"><circle cx="882.9" cy="1120.2" r="4.5"/><circle cx="891.1" cy="1117.1" r="4.5"/><circle cx="897.4" cy="1111.1" r="4.5"/><circle cx="905.7" cy="1108.0" r="4.5"/><circle cx="912.0" cy="1102.0" r="4.5"/><circle cx="893.6" cy="1126.0" r="4.5"/><circle cx="901.9" cy="1122.9" r="4.5"/><circle cx="908.2" cy="1116.8" r="4.5"/><circle cx="916.4" cy="1113.8" r="4.5"/><circle cx="922.8" cy="1107.7" r="4.5"/><circle cx="897.5" cy="1136.0" r="4.5"/><circle cx="905.7" cy="1133.0" r="4.5"/><circle cx="912.1" cy="1126.9" r="4.5"/><circle cx="920.3" cy="1123.9" r="4.5"/><circle cx="926.7" cy="1117.8" r="4.5"/><circle cx="936.5" cy="1185.6" r="4.5"/><circle cx="942.6" cy="1179.3" r="4.5"/><circle cx="945.6" cy="1171.0" r="4.5"/><circle cx="951.7" cy="1164.7" r="4.5"/><circle cx="954.7" cy="1156.4" r="4.5"/><circle cx="948.7" cy="1186.1" r="4.5"/><circle cx="954.8" cy="1179.8" r="4.5"/><circle cx="957.8" cy="1171.5" r="4.5"/><circle cx="963.9" cy="1165.2" r="4.5"/><circle cx="966.9" cy="1156.9" r="4.5"/><circle cx="956.6" cy="1193.5" r="4.5"/><circle cx="962.7" cy="1187.1" r="4.5"/><circle cx="965.7" cy="1178.9" r="4.5"/><circle cx="971.8" cy="1172.5" r="4.5"/><circle cx="974.8" cy="1164.3" r="4.5"/><circle cx="827.7" cy="1250.8" r="4.5"/><circle cx="834.8" cy="1245.6" r="4.5"/><circle cx="839.3" cy="1238.0" r="4.5"/><circle cx="846.3" cy="1232.8" r="4.5"/><circle cx="850.8" cy="1225.2" r="4.5"/><circle cx="839.7" cy="1253.3" r="4.5"/><circle cx="846.8" cy="1248.2" r="4.5"/><circle cx="851.2" cy="1240.6" r="4.5"/><circle cx="858.3" cy="1235.4" r="4.5"/><circle cx="862.7" cy="1227.8" r="4.5"/><circle cx="846.2" cy="1262.0" r="4.5"/><circle cx="853.3" cy="1256.8" r="4.5"/><circle cx="857.7" cy="1249.2" r="4.5"/><circle cx="864.8" cy="1244.0" r="4.5"/><circle cx="869.2" cy="1236.4" r="4.5"/><circle cx="858.1" cy="1264.6" r="4.5"/><circle cx="865.2" cy="1259.4" r="4.5"/><circle cx="869.6" cy="1251.8" r="4.5"/><circle cx="876.7" cy="1246.6" r="4.5"/><circle cx="881.1" cy="1239.0" r="4.5"/><circle cx="870.2" cy="1223.6" r="4.5"/><circle cx="877.1" cy="1218.1" r="4.5"/><circle cx="881.3" cy="1210.4" r="4.5"/><circle cx="888.2" cy="1205.0" r="4.5"/><circle cx="882.2" cy="1225.8" r="4.5"/><circle cx="889.1" cy="1220.3" r="4.5"/><circle cx="893.3" cy="1212.6" r="4.5"/><circle cx="900.2" cy="1207.1" r="4.5"/><circle cx="975.2" cy="1220.5" r="4.5"/><circle cx="981.0" cy="1213.9" r="4.5"/><circle cx="983.8" cy="1205.6" r="4.5"/><circle cx="989.6" cy="1199.0" r="4.5"/><circle cx="992.4" cy="1190.7" r="4.5"/><circle cx="987.4" cy="1220.5" r="4.5"/><circle cx="993.2" cy="1214.0" r="4.5"/><circle cx="996.0" cy="1205.6" r="4.5"/><circle cx="1001.8" cy="1199.1" r="4.5"/><circle cx="1004.6" cy="1190.7" r="4.5"/><circle cx="1070.2" cy="1145.3" r="4.5"/><circle cx="1074.4" cy="1153.0" r="4.5"/><circle cx="1081.3" cy="1158.5" r="4.5"/><circle cx="1085.4" cy="1166.2" r="4.5"/><circle cx="1092.3" cy="1171.7" r="4.5"/><circle cx="1066.0" cy="1156.7" r="4.5"/><circle cx="1070.2" cy="1164.5" r="4.5"/><circle cx="1077.1" cy="1169.9" r="4.5"/><circle cx="1081.2" cy="1177.7" r="4.5"/><circle cx="1088.1" cy="1183.1" r="4.5"/><circle cx="1056.6" cy="1162.0" r="4.5"/><circle cx="1060.7" cy="1169.7" r="4.5"/><circle cx="1067.6" cy="1175.2" r="4.5"/><circle cx="1071.8" cy="1182.9" r="4.5"/><circle cx="1078.7" cy="1188.3" r="4.5"/><circle cx="1109.2" cy="1210.5" r="4.5"/><circle cx="1112.2" cy="1218.8" r="4.5"/><circle cx="1118.3" cy="1225.1" r="4.5"/><circle cx="1121.3" cy="1233.3" r="4.5"/><circle cx="1127.4" cy="1239.7" r="4.5"/><circle cx="1103.4" cy="1221.3" r="4.5"/><circle cx="1106.4" cy="1229.5" r="4.5"/><circle cx="1112.5" cy="1235.8" r="4.5"/><circle cx="1115.5" cy="1244.1" r="4.5"/><circle cx="1121.6" cy="1250.4" r="4.5"/><circle cx="1093.3" cy="1225.1" r="4.5"/><circle cx="1096.3" cy="1233.4" r="4.5"/><circle cx="1102.4" cy="1239.7" r="4.5"/><circle cx="1105.4" cy="1248.0" r="4.5"/><circle cx="1111.5" cy="1254.3" r="4.5"/><circle cx="813.4" cy="1322.0" r="4.5"/><circle cx="817.8" cy="1329.6" r="4.5"/><circle cx="824.9" cy="1334.8" r="4.5"/><circle cx="829.3" cy="1342.4" r="4.5"/><circle cx="809.5" cy="1333.6" r="4.5"/><circle cx="813.9" cy="1341.2" r="4.5"/><circle cx="821.0" cy="1346.4" r="4.5"/><circle cx="825.5" cy="1354.0" r="4.5"/><circle cx="800.3" cy="1339.2" r="4.5"/><circle cx="804.7" cy="1346.8" r="4.5"/><circle cx="811.8" cy="1352.0" r="4.5"/><circle cx="816.2" cy="1359.6" r="4.5"/><circle cx="879.2" cy="1354.2" r="4.5"/><circle cx="886.1" cy="1348.8" r="4.5"/><circle cx="890.3" cy="1341.0" r="4.5"/><circle cx="897.2" cy="1335.6" r="4.5"/><circle cx="891.2" cy="1356.4" r="4.5"/><circle cx="898.2" cy="1351.0" r="4.5"/><circle cx="902.3" cy="1343.2" r="4.5"/><circle cx="909.2" cy="1337.8" r="4.5"/><circle cx="987.9" cy="1337.3" r="4.5"/><circle cx="994.3" cy="1331.3" r="4.5"/><circle cx="997.8" cy="1323.2" r="4.5"/><circle cx="1004.2" cy="1317.2" r="4.5"/><circle cx="1000.1" cy="1338.4" r="4.5"/><circle cx="1006.5" cy="1332.4" r="4.5"/><circle cx="1009.9" cy="1324.3" r="4.5"/><circle cx="1016.3" cy="1318.3" r="4.5"/><circle cx="1094.6" cy="1291.6" r="4.5"/><circle cx="1098.0" cy="1299.7" r="4.5"/><circle cx="1104.4" cy="1305.7" r="4.5"/><circle cx="1107.9" cy="1313.8" r="4.5"/><circle cx="1114.3" cy="1319.8" r="4.5"/><circle cx="1089.3" cy="1302.6" r="4.5"/><circle cx="1092.8" cy="1310.7" r="4.5"/><circle cx="1099.2" cy="1316.7" r="4.5"/><circle cx="1102.7" cy="1324.8" r="4.5"/><circle cx="1109.1" cy="1330.8" r="4.5"/><circle cx="1079.5" cy="1307.0" r="4.5"/><circle cx="1082.9" cy="1315.1" r="4.5"/><circle cx="1089.4" cy="1321.1" r="4.5"/><circle cx="1092.8" cy="1329.2" r="4.5"/><circle cx="1099.2" cy="1335.2" r="4.5"/><circle cx="1060.8" cy="1443.4" r="4.5"/><circle cx="1068.9" cy="1439.9" r="4.5"/><circle cx="1074.9" cy="1433.5" r="4.5"/><circle cx="1083.0" cy="1430.0" r="4.5"/><circle cx="1089.0" cy="1423.6" r="4.5"/><circle cx="1071.8" cy="1448.6" r="4.5"/><circle cx="1079.9" cy="1445.1" r="4.5"/><circle cx="1085.9" cy="1438.7" r="4.5"/><circle cx="1094.0" cy="1435.3" r="4.5"/><circle cx="1100.0" cy="1428.9" r="4.5"/><circle cx="1076.2" cy="1458.4" r="4.5"/><circle cx="1084.3" cy="1455.0" r="4.5"/><circle cx="1090.3" cy="1448.6" r="4.5"/><circle cx="1098.4" cy="1445.1" r="4.5"/><circle cx="1104.4" cy="1438.7" r="4.5"/><circle cx="941.3" cy="1453.8" r="4.5"/><circle cx="950.1" cy="1453.3" r="4.5"/><circle cx="957.9" cy="1449.3" r="4.5"/><circle cx="966.7" cy="1448.9" r="4.5"/><circle cx="949.9" cy="1462.5" r="4.5"/><circle cx="958.6" cy="1462.0" r="4.5"/><circle cx="966.5" cy="1458.0" r="4.5"/><circle cx="975.3" cy="1457.5" r="4.5"/><circle cx="896.1" cy="1466.3" r="4.5"/><circle cx="904.8" cy="1465.0" r="4.5"/><circle cx="912.2" cy="1460.4" r="4.5"/><circle cx="920.9" cy="1459.2" r="4.5"/><circle cx="905.4" cy="1474.2" r="4.5"/><circle cx="914.1" cy="1472.9" r="4.5"/><circle cx="921.5" cy="1468.3" r="4.5"/><circle cx="930.2" cy="1467.0" r="4.5"/><circle cx="1002.1" cy="1410.5" r="4.5"/><circle cx="1008.0" cy="1403.9" r="4.5"/><circle cx="1010.7" cy="1395.6" r="4.5"/><circle cx="1016.6" cy="1389.0" r="4.5"/><circle cx="1014.3" cy="1410.5" r="4.5"/><circle cx="1020.2" cy="1404.0" r="4.5"/><circle cx="1022.9" cy="1395.6" r="4.5"/><circle cx="1028.8" cy="1389.1" r="4.5"/><circle cx="971.9" cy="1350.0" r="4.5"/><circle cx="979.3" cy="1345.2" r="4.5"/><circle cx="984.1" cy="1337.9" r="4.5"/><circle cx="983.7" cy="1353.2" r="4.5"/><circle cx="991.0" cy="1348.4" r="4.5"/><circle cx="995.9" cy="1341.1" r="4.5"/><circle cx="1130.0" cy="1257.5" r="4.5"/><circle cx="1132.7" cy="1265.8" r="4.5"/><circle cx="1138.6" cy="1272.4" r="4.5"/><circle cx="1141.3" cy="1280.7" r="4.5"/><circle cx="1123.8" cy="1268.0" r="4.5"/><circle cx="1126.6" cy="1276.4" r="4.5"/><circle cx="1132.4" cy="1282.9" r="4.5"/><circle cx="1135.2" cy="1291.2" r="4.5"/><circle cx="940.8" cy="1270.7" r="4.5"/><circle cx="947.2" cy="1264.7" r="4.5"/><circle cx="950.7" cy="1256.6" r="4.5"/><circle cx="953.0" cy="1271.8" r="4.5"/><circle cx="959.4" cy="1265.8" r="4.5"/><circle cx="962.9" cy="1257.8" r="4.5"/><circle cx="1029.2" cy="1187.9" r="4.5"/><circle cx="1035.1" cy="1181.3" r="4.5"/><circle cx="1037.8" cy="1173.0" r="4.5"/><circle cx="1043.7" cy="1166.4" r="4.5"/><circle cx="819.0" cy="1453.6" r="4.5"/><circle cx="827.7" cy="1452.3" r="4.5"/><circle cx="835.2" cy="1447.7" r="4.5"/><circle cx="828.3" cy="1461.4" r="4.5"/><circle cx="837.0" cy="1460.2" r="4.5"/><circle cx="844.5" cy="1455.6" r="4.5"/><circle cx="1126.7" cy="1373.8" r="4.5"/><circle cx="1130.1" cy="1381.8" r="4.5"/><circle cx="1136.6" cy="1387.8" r="4.5"/><circle cx="1121.5" cy="1384.8" r="4.5"/><circle cx="1124.9" cy="1392.9" r="4.5"/><circle cx="1131.3" cy="1398.9" r="4.5"/><circle cx="915.3" cy="1390.3" r="4.5"/><circle cx="922.2" cy="1384.8" r="4.5"/><circle cx="926.3" cy="1377.1" r="4.5"/><circle cx="933.2" cy="1371.6" r="4.5"/><circle cx="927.3" cy="1392.4" r="4.5"/><circle cx="934.2" cy="1387.0" r="4.5"/><circle cx="938.3" cy="1379.3" r="4.5"/><circle cx="945.3" cy="1373.8" r="4.5"/><circle cx="782.3" cy="1548.2" r="4.3"/><circle cx="799.8" cy="1548.2" r="4.3"/><circle cx="817.2" cy="1548.2" r="4.3"/><circle cx="834.7" cy="1548.2" r="4.3"/><circle cx="852.2" cy="1548.2" r="4.3"/><circle cx="869.6" cy="1548.2" r="4.3"/><circle cx="887.1" cy="1548.2" r="4.3"/><circle cx="904.6" cy="1548.2" r="4.3"/><circle cx="922.0" cy="1548.2" r="4.3"/><circle cx="939.5" cy="1548.2" r="4.3"/><circle cx="957.0" cy="1548.2" r="4.3"/><circle cx="974.5" cy="1548.2" r="4.3"/><circle cx="991.9" cy="1548.2" r="4.3"/><circle cx="1009.4" cy="1548.2" r="4.3"/><circle cx="1026.9" cy="1548.2" r="4.3"/><circle cx="1044.3" cy="1548.2" r="4.3"/><circle cx="1061.8" cy="1548.2" r="4.3"/><circle cx="1079.3" cy="1548.2" r="4.3"/><circle cx="1096.7" cy="1548.2" r="4.3"/><circle cx="1114.2" cy="1548.2" r="4.3"/><circle cx="777.1" cy="1561.8" r="4.3"/><circle cx="794.5" cy="1561.8" r="4.3"/><circle cx="812.0" cy="1561.8" r="4.3"/><circle cx="829.5" cy="1561.8" r="4.3"/><circle cx="846.9" cy="1561.8" r="4.3"/><circle cx="864.4" cy="1561.8" r="4.3"/><circle cx="881.9" cy="1561.8" r="4.3"/><circle cx="899.3" cy="1561.8" r="4.3"/><circle cx="916.8" cy="1561.8" r="4.3"/><circle cx="934.3" cy="1561.8" r="4.3"/><circle cx="951.8" cy="1561.8" r="4.3"/><circle cx="969.2" cy="1561.8" r="4.3"/><circle cx="986.7" cy="1561.8" r="4.3"/><circle cx="1004.2" cy="1561.8" r="4.3"/><circle cx="1021.6" cy="1561.8" r="4.3"/><circle cx="1039.1" cy="1561.8" r="4.3"/><circle cx="1056.6" cy="1561.8" r="4.3"/><circle cx="1074.0" cy="1561.8" r="4.3"/><circle cx="1091.5" cy="1561.8" r="4.3"/><circle cx="1109.0" cy="1561.8" r="4.3"/><circle cx="772.9" cy="1575.3" r="4.3"/><circle cx="790.4" cy="1575.3" r="4.3"/><circle cx="807.8" cy="1575.3" r="4.3"/><circle cx="825.3" cy="1575.3" r="4.3"/><circle cx="842.8" cy="1575.3" r="4.3"/><circle cx="860.2" cy="1575.3" r="4.3"/><circle cx="877.7" cy="1575.3" r="4.3"/><circle cx="895.2" cy="1575.3" r="4.3"/><circle cx="912.6" cy="1575.3" r="4.3"/><circle cx="930.1" cy="1575.3" r="4.3"/><circle cx="947.6" cy="1575.3" r="4.3"/><circle cx="965.0" cy="1575.3" r="4.3"/><circle cx="982.5" cy="1575.3" r="4.3"/><circle cx="1000.0" cy="1575.3" r="4.3"/><circle cx="1017.4" cy="1575.3" r="4.3"/><circle cx="1034.9" cy="1575.3" r="4.3"/><circle cx="1052.4" cy="1575.3" r="4.3"/><circle cx="1069.8" cy="1575.3" r="4.3"/><circle cx="1087.3" cy="1575.3" r="4.3"/><circle cx="1104.8" cy="1575.3" r="4.3"/></g>
<circle cx="903.5" cy="1188.4" r="18.2" fill="#fff" fill-opacity="0.6" stroke="#5c5860" stroke-width="2.8"/><circle cx="903.5" cy="1188.4" r="11.3" fill="none" stroke="#6a6570" stroke-width="1.2"/><path d="M914.8,1188.4 L921.7,1188.4 M912.6,1195.0 L918.2,1199.1 M907.0,1199.1 L909.1,1205.7 M900.0,1199.1 L897.9,1205.7 M894.4,1195.0 L888.8,1199.1 M892.2,1188.4 L885.3,1188.4 M894.4,1181.8 L888.8,1177.7 M900.0,1177.7 L897.9,1171.1 M907.0,1177.7 L909.1,1171.1 M912.6,1181.8 L918.2,1177.7 " stroke="#6a6570" stroke-width="1.1" fill="none"/><circle cx="903.5" cy="1188.4" r="7.5" fill="url(#gsph)"/>
<circle cx="1031.0" cy="1245.6" r="18.2" fill="#fff" fill-opacity="0.6" stroke="#5c5860" stroke-width="2.8"/><circle cx="1031.0" cy="1245.6" r="11.3" fill="none" stroke="#6a6570" stroke-width="1.2"/><path d="M1042.3,1245.6 L1049.2,1245.6 M1040.1,1252.2 L1045.7,1256.3 M1034.5,1256.3 L1036.6,1262.9 M1027.5,1256.3 L1025.4,1262.9 M1021.9,1252.2 L1016.3,1256.3 M1019.7,1245.6 L1012.8,1245.6 M1021.9,1239.0 L1016.3,1234.9 M1027.5,1234.9 L1025.4,1228.3 M1034.5,1234.9 L1036.6,1228.3 M1040.1,1239.0 L1045.7,1234.9 " stroke="#6a6570" stroke-width="1.1" fill="none"/><circle cx="1031.0" cy="1245.6" r="7.5" fill="url(#gsph)"/>
<circle cx="942.7" cy="1306.9" r="18.2" fill="#fff" fill-opacity="0.6" stroke="#5c5860" stroke-width="2.8"/><circle cx="942.7" cy="1306.9" r="11.3" fill="none" stroke="#6a6570" stroke-width="1.2"/><path d="M954.0,1306.9 L960.9,1306.9 M951.8,1313.5 L957.4,1317.6 M946.2,1317.6 L948.3,1324.2 M939.2,1317.6 L937.1,1324.2 M933.6,1313.5 L928.0,1317.6 M931.4,1306.9 L924.5,1306.9 M933.6,1300.3 L928.0,1296.2 M939.2,1296.2 L937.1,1289.6 M946.2,1296.2 L948.3,1289.6 M951.8,1300.3 L957.4,1296.2 " stroke="#6a6570" stroke-width="1.1" fill="none"/><circle cx="942.7" cy="1306.9" r="7.5" fill="url(#gsph)"/>
<circle cx="848.1" cy="1352.8" r="18.2" fill="#fff" fill-opacity="0.6" stroke="#5c5860" stroke-width="2.8"/><circle cx="848.1" cy="1352.8" r="11.3" fill="none" stroke="#6a6570" stroke-width="1.2"/><path d="M859.4,1352.8 L866.3,1352.8 M857.2,1359.4 L862.8,1363.5 M851.6,1363.5 L853.7,1370.1 M844.6,1363.5 L842.5,1370.1 M839.0,1359.4 L833.4,1363.5 M836.8,1352.8 L829.9,1352.8 M839.0,1346.2 L833.4,1342.1 M844.6,1342.1 L842.5,1335.5 M851.6,1342.1 L853.7,1335.5 M857.2,1346.2 L862.8,1342.1 " stroke="#6a6570" stroke-width="1.1" fill="none"/><circle cx="848.1" cy="1352.8" r="7.5" fill="url(#gsph)"/>
<circle cx="1077.0" cy="1371.7" r="18.2" fill="#fff" fill-opacity="0.6" stroke="#5c5860" stroke-width="2.8"/><circle cx="1077.0" cy="1371.7" r="11.3" fill="none" stroke="#6a6570" stroke-width="1.2"/><path d="M1088.3,1371.7 L1095.2,1371.7 M1086.1,1378.3 L1091.7,1382.4 M1080.5,1382.4 L1082.6,1389.0 M1073.5,1382.4 L1071.4,1389.0 M1067.9,1378.3 L1062.3,1382.4 M1065.7,1371.7 L1058.8,1371.7 M1067.9,1365.1 L1062.3,1361.0 M1073.5,1361.0 L1071.4,1354.4 M1080.5,1361.0 L1082.6,1354.4 M1086.1,1365.1 L1091.7,1361.0 " stroke="#6a6570" stroke-width="1.1" fill="none"/><circle cx="1077.0" cy="1371.7" r="7.5" fill="url(#gsph)"/>
<circle cx="933.7" cy="1420.4" r="18.2" fill="#fff" fill-opacity="0.6" stroke="#5c5860" stroke-width="2.8"/><circle cx="933.7" cy="1420.4" r="11.3" fill="none" stroke="#6a6570" stroke-width="1.2"/><path d="M945.0,1420.4 L951.9,1420.4 M942.8,1427.0 L948.4,1431.1 M937.2,1431.1 L939.3,1437.7 M930.2,1431.1 L928.1,1437.7 M924.6,1427.0 L919.0,1431.1 M922.4,1420.4 L915.5,1420.4 M924.6,1413.8 L919.0,1409.7 M930.2,1409.7 L928.1,1403.1 M937.2,1409.7 L939.3,1403.1 M942.8,1413.8 L948.4,1409.7 " stroke="#6a6570" stroke-width="1.1" fill="none"/><circle cx="933.7" cy="1420.4" r="7.5" fill="url(#gsph)"/>
<circle cx="819.3" cy="1433.0" r="18.2" fill="#fff" fill-opacity="0.6" stroke="#5c5860" stroke-width="2.8"/><circle cx="819.3" cy="1433.0" r="11.3" fill="none" stroke="#6a6570" stroke-width="1.2"/><path d="M830.6,1433.0 L837.5,1433.0 M828.4,1439.6 L834.0,1443.7 M822.8,1443.7 L824.9,1450.3 M815.8,1443.7 L813.7,1450.3 M810.2,1439.6 L804.6,1443.7 M808.0,1433.0 L801.1,1433.0 M810.2,1426.4 L804.6,1422.3 M815.8,1422.3 L813.7,1415.7 M822.8,1422.3 L824.9,1415.7 M828.4,1426.4 L834.0,1422.3 " stroke="#6a6570" stroke-width="1.1" fill="none"/><circle cx="819.3" cy="1433.0" r="7.5" fill="url(#gsph)"/>
<rect x="781.3" y="1484.3" width="370.2" height="13.8" rx="3" fill="#1aa9de"/>
<rect x="783" y="1485" width="367" height="3" rx="1.5" fill="#4cc4ee" opacity="0.7"/>
<line x1="903.6" y1="1366" x2="903.6" y2="1530" stroke="#e8202a" stroke-width="2.6" stroke-dasharray="4 2"/>
<line x1="1020.4" y1="1384" x2="1020.4" y2="1534" stroke="#e8202a" stroke-width="2.6" stroke-dasharray="4 2"/>
<line x1="866" y1="1411" x2="866" y2="1502" stroke="#22b040" stroke-width="2.8" stroke-dasharray="5 1.6"/>
<circle cx="866" cy="1505.5" r="3.4" fill="#18a838"/>
<line x1="934" y1="1422.6" x2="1004" y2="1368.2" stroke="#2cc044" stroke-width="2.6"/>
<path d="M855,1480.5 L876,1500.5 M876,1480.5 L855,1500.5" stroke="#e23a3a" stroke-width="2.2" fill="none"/>
<circle cx="942.7" cy="1106.4" r="7.3" fill="url(#gsph)"/><circle cx="967.5" cy="1144.7" r="7.3" fill="url(#gsph)"/><circle cx="1058.1" cy="1137.5" r="7.3" fill="url(#gsph)"/><circle cx="851.7" cy="1219.9" r="7.3" fill="url(#gsph)"/><circle cx="1095.0" cy="1227.6" r="7.3" fill="url(#gsph)"/><circle cx="998.1" cy="1253.7" r="7.3" fill="url(#gsph)"/><circle cx="1054.5" cy="1292.0" r="7.3" fill="url(#gsph)"/><circle cx="827.0" cy="1380.8" r="7.3" fill="url(#gsph)"/><circle cx="866.2" cy="1409.1" r="7.3" fill="url(#gsph)"/><circle cx="1004.9" cy="1368.6" r="7.3" fill="url(#gsph)"/><circle cx="1101.8" cy="1420.4" r="7.3" fill="url(#gsph)"/><circle cx="971.1" cy="1440.7" r="7.3" fill="url(#gsph)"/><circle cx="813.4" cy="1467.7" r="7.3" fill="url(#gsph)"/><ellipse cx="926.1" cy="1105.0" rx="9.6" ry="10.6" fill="url(#rsph)"/><ellipse cx="858.5" cy="1145.6" rx="9.6" ry="10.6" fill="url(#rsph)"/><ellipse cx="983.3" cy="1145.6" rx="9.6" ry="10.6" fill="url(#rsph)"/><ellipse cx="1040.9" cy="1137.5" rx="9.6" ry="10.6" fill="url(#rsph)"/><ellipse cx="1118.4" cy="1180.7" rx="9.6" ry="10.6" fill="url(#rsph)"/><ellipse cx="939.6" cy="1212.3" rx="9.6" ry="10.6" fill="url(#rsph)"/><ellipse cx="836.9" cy="1226.7" rx="9.6" ry="10.6" fill="url(#rsph)"/><ellipse cx="983.3" cy="1243.8" rx="9.6" ry="10.6" fill="url(#rsph)"/><ellipse cx="1079.2" cy="1227.6" rx="9.6" ry="10.6" fill="url(#rsph)"/><ellipse cx="901.3" cy="1265.0" rx="9.6" ry="10.6" fill="url(#rsph)"/><ellipse cx="800.8" cy="1285.2" rx="9.6" ry="10.6" fill="url(#rsph)"/><ellipse cx="998.1" cy="1292.9" rx="9.6" ry="10.6" fill="url(#rsph)"/><ellipse cx="1070.2" cy="1292.0" rx="9.6" ry="10.6" fill="url(#rsph)"/><ellipse cx="1125.6" cy="1351.9" rx="9.6" ry="10.6" fill="url(#rsph)"/><ellipse cx="903.5" cy="1357.3" rx="9.6" ry="10.6" fill="url(#rsph)"/><ellipse cx="812.5" cy="1373.1" rx="9.6" ry="10.6" fill="url(#rsph)"/><ellipse cx="1020.7" cy="1374.4" rx="9.6" ry="10.6" fill="url(#rsph)"/><ellipse cx="849.5" cy="1409.1" rx="9.6" ry="10.6" fill="url(#rsph)"/><ellipse cx="1117.5" cy="1421.3" rx="9.6" ry="10.6" fill="url(#rsph)"/><ellipse cx="978.8" cy="1454.2" rx="9.6" ry="10.6" fill="url(#rsph)"/><ellipse cx="1054.5" cy="1460.9" rx="9.6" ry="10.6" fill="url(#rsph)"/><ellipse cx="828.3" cy="1467.7" rx="9.6" ry="10.6" fill="url(#rsph)"/>
<ellipse cx="790.7" cy="1527.2" rx="9.2" ry="10" fill="url(#rsph)"/><ellipse cx="811.2" cy="1517.8" rx="9.2" ry="10" fill="url(#rsph)"/><ellipse cx="828.3" cy="1531.4" rx="9.2" ry="10" fill="url(#rsph)"/><ellipse cx="847.2" cy="1518.9" rx="9.2" ry="10" fill="url(#rsph)"/><ellipse cx="860.8" cy="1536.6" rx="9.2" ry="10" fill="url(#rsph)"/><ellipse cx="882.7" cy="1526.2" rx="9.2" ry="10" fill="url(#rsph)"/><ellipse cx="903.6" cy="1530.4" rx="9.2" ry="10" fill="url(#rsph)"/><ellipse cx="924.6" cy="1524.1" rx="9.2" ry="10" fill="url(#rsph)"/><ellipse cx="944.4" cy="1531.4" rx="9.2" ry="10" fill="url(#rsph)"/><ellipse cx="964.3" cy="1526.2" rx="9.2" ry="10" fill="url(#rsph)"/><ellipse cx="984.2" cy="1531.4" rx="9.2" ry="10" fill="url(#rsph)"/><ellipse cx="1004.1" cy="1521.0" rx="9.2" ry="10" fill="url(#rsph)"/><ellipse cx="1020.4" cy="1533.5" rx="9.2" ry="10" fill="url(#rsph)"/><ellipse cx="1041.3" cy="1525.1" rx="9.2" ry="10" fill="url(#rsph)"/><ellipse cx="1061.2" cy="1531.4" rx="9.2" ry="10" fill="url(#rsph)"/><ellipse cx="1081.9" cy="1524.1" rx="9.2" ry="10" fill="url(#rsph)"/><ellipse cx="1102.8" cy="1530.4" rx="9.2" ry="10" fill="url(#rsph)"/><ellipse cx="1123.3" cy="1523.0" rx="9.2" ry="10" fill="url(#rsph)"/>
<path d="M764.5,1095.1 C765.7,1097.9 768.5,1107.8 771.8,1111.8 C775.2,1115.8 779.2,1119.0 784.4,1119.2 C789.6,1119.3 799.4,1112.9 803.2,1112.9 C807.1,1112.9 808.8,1115.2 807.4,1119.2 C806.0,1123.2 796.6,1132.9 794.9,1136.9 C793.1,1141.0 792.8,1143.0 796.9,1143.2 C801.1,1143.4 814.9,1137.6 820.0,1138.0 C825.0,1138.3 829.2,1141.0 827.3,1145.3 C825.4,1149.7 811.2,1160.0 808.5,1164.1 C805.7,1168.3 806.5,1170.2 810.5,1170.0 C814.6,1169.8 828.0,1163.2 832.5,1163.1 C837.0,1163.0 837.7,1165.4 837.7,1169.4 C837.7,1173.4 832.9,1181.4 832.5,1187.2 C832.2,1192.9 835.1,1201.1 835.6,1203.9" fill="none" stroke="#9452b2" stroke-width="4.4" stroke-linecap="round"/>
<path d="M839.8,1214.3 L832.5,1202.8 L841.9,1201.8 Z" fill="#9a58b4"/>
</g>
<rect x="743.6" y="1080.5" width="422.6" height="551.3" fill="none" stroke="#484848" stroke-width="3.8" stroke-dasharray="6.2 6.2"/>
<ellipse cx="744" cy="1672.7" rx="10.5" ry="11.5" fill="url(#rsph)"/><circle cx="763" cy="1673" r="8.8" fill="url(#gsph)"/>
<ellipse cx="744" cy="1719.6" rx="10.5" ry="11.5" fill="url(#rsph)"/>
<circle cx="744.5" cy="1766.5" r="9.6" fill="url(#gsph)"/>
<text transform="translate(789.3,1681.5) scale(0.871,1)" x="-1.3" y="0" font-size="33.0" fill="#17304f" stroke="#17304f" stroke-width="0.9" stroke-linejoin="round">exciton</text>
<text transform="translate(789.3,1728.4) scale(0.952,1)" x="-2.1" y="0" font-size="30.3" fill="#17304f" stroke="#17304f" stroke-width="0.9" stroke-linejoin="round">hole</text>
<text transform="translate(787.9,1775.2) scale(1.005,1)" x="-1.1" y="0" font-size="28.3" fill="#17304f" stroke="#17304f" stroke-width="0.9" stroke-linejoin="round">electron</text>
<text transform="translate(954.8,1779.6) scale(0.876,1)" x="-1.6" y="0" font-size="31.4" fill="#17304f" stroke="#17304f" stroke-width="0.9" stroke-linejoin="round">C8-BTBT</text>
<text transform="translate(1158.4,1776.7) scale(0.954,1)" x="-2.4" y="0" font-size="29.7" fill="#17304f" stroke="#17304f" stroke-width="0.9" stroke-linejoin="round">PC</text>
<text transform="translate(1196.0,1783.0) scale(1.003,1)" x="-0.8" y="0" font-size="15.7" fill="#17304f" stroke="#17304f" stroke-width="0.5" stroke-linejoin="round">61</text>
<text transform="translate(1215.0,1776.7) scale(1.119,1)" x="-2.4" y="0" font-size="29.7" fill="#17304f" stroke="#17304f" stroke-width="0.9" stroke-linejoin="round">BM</text>
<circle cx="1129.1" cy="1716.7" r="40.5" fill="none" stroke="#1d4674" stroke-width="2.6"/><circle cx="1129.1" cy="1716.7" r="35.5" fill="none" stroke="#1d4674" stroke-width="1.2" opacity="0.8"/><circle cx="1129.1" cy="1716.7" r="11.5" fill="none" stroke="#1d4674" stroke-width="1.8"/><path d="M1140.4,1718.9 L1163.9,1723.7 M1154.6,1724.0 L1150.3,1732.5 M1137.7,1724.3 L1155.7,1740.2 M1147.5,1735.8 L1139.5,1741.0 M1132.8,1727.6 L1140.4,1750.3 M1135.4,1742.4 L1126.0,1743.0 M1126.8,1727.9 L1122.0,1751.4 M1121.7,1742.1 L1113.2,1737.9 M1121.5,1725.3 L1105.6,1743.3 M1110.0,1735.0 L1104.7,1727.1 M1118.2,1720.3 L1095.4,1727.9 M1103.4,1723.0 L1102.8,1713.5 M1117.8,1714.4 L1094.3,1709.6 M1103.6,1709.3 L1107.9,1700.8 M1120.5,1709.0 L1102.5,1693.2 M1110.7,1697.5 L1118.6,1692.3 M1125.4,1705.8 L1117.8,1683.0 M1122.8,1690.9 L1132.2,1690.3 M1131.4,1705.4 L1136.2,1681.9 M1136.5,1691.2 L1145.0,1695.4 M1136.7,1708.0 L1152.6,1690.1 M1148.2,1698.3 L1153.5,1706.2 M1140.0,1713.0 L1162.8,1705.4 M1154.8,1710.3 L1155.4,1719.8 " stroke="#1d4674" stroke-width="1.7" fill="none"/>
<circle cx="1107.1" cy="1650.8" r="10" fill="none" stroke="#1d4674" stroke-width="1.6"/><path d="M1115.9,1658.1 L1129.1,1672.7 L1139.3,1663.9 L1149.6,1671.3 L1159.9,1661.0 L1171.6,1663.9 L1180.4,1655.1 L1192.1,1659.5" stroke="#1d4674" stroke-width="1.6" fill="none"/><path d="M1170.1,1663.9 L1170.1,1677.1" stroke="#1d4674" stroke-width="1.6" fill="none"/><path d="M1129.1,1672.7 L1129.1,1676.2" stroke="#1d4674" stroke-width="1.6"/>
<path d="M887.5,1787.5 L896.8,1787.5 L906.8,1777.0 L913.8,1775.2 L923.8,1764.7 L930.8,1762.9 L940.8,1752.4 L947.8,1750.6 L957.8,1740.1 L964.8,1738.3" stroke="#1d4674" stroke-width="1.5" fill="none"/><ellipse cx="965.1" cy="1730.7" rx="10" ry="11" fill="none" stroke="#1d4674" stroke-width="1.7" transform="rotate(35 965.1 1730.7)"/><ellipse cx="1011.1" cy="1696.7" rx="10" ry="11" fill="none" stroke="#1d4674" stroke-width="1.7" transform="rotate(35 1011.1 1696.7)"/><path d="M973.9,1722.5 L982.6,1721.1 L988.5,1707.9 L995.8,1713.7 L1003.2,1703.5" stroke="#1d4674" stroke-width="1.7" fill="none"/><path d="M975.3,1726.0 L990.0,1729.8 L992.9,1718.1" stroke="#1d4674" stroke-width="1.7" fill="none"/><text transform="translate(981.8,1703.5) scale(0.833,1)" x="-0.3" y="0" font-size="10.0" fill="#12233d" font-weight="bold">S</text>
<text transform="translate(988.5,1734.8) scale(0.833,1)" x="-0.3" y="0" font-size="10.0" fill="#12233d" font-weight="bold">S</text>
<path d="M1019.8,1686.8 L1026.9,1679.8 L1032.1,1678.0 L1039.2,1671.0 L1044.5,1669.2 L1051.5,1662.2 L1056.8,1660.4 L1063.8,1653.4 L1069.1,1651.6 L1076.1,1644.6 L1081.4,1642.8 L1088.4,1635.8" stroke="#1d4674" stroke-width="1.5" fill="none"/>
<rect x="512.2" y="1400.7" width="89.2" height="127.3" fill="none" stroke="#3a1a10" stroke-width="1.5" stroke-dasharray="3.2 2"/>
<line x1="601.4" y1="1400.7" x2="744" y2="1081" stroke="#333" stroke-width="1.5" stroke-dasharray="3 1.6"/>
<line x1="601.4" y1="1528" x2="744" y2="1631" stroke="#1f2a24" stroke-width="1.8"/>
<text transform="translate(87.8,1275.5) scale(0.938,1)" x="-1.6" y="0" font-size="32.1" fill="#444" stroke="#444" stroke-width="0.5" stroke-linejoin="round">C8-BTBT</text>
<text transform="translate(218.5,1275.5) scale(1.220,1)" x="-2.7" y="0" font-size="30.2" fill="#888">:</text>
<text transform="translate(226.9,1275.5) scale(0.990,1)" x="-2.6" y="0" font-size="32.6" fill="#444" stroke="#444" stroke-width="0.5" stroke-linejoin="round">PC</text>
<text transform="translate(269.5,1284.3) scale(1.098,1)" x="-1.0" y="0" font-size="19.3" fill="#666" stroke="#666" stroke-width="0.4" stroke-linejoin="round">61</text>
<text transform="translate(293.5,1275.5) scale(1.057,1)" x="-2.6" y="0" font-size="32.6" fill="#444" stroke="#444" stroke-width="0.5" stroke-linejoin="round">BM</text>
<line x1="361" y1="1375.4" x2="303" y2="1297" stroke="#2a2020" stroke-width="1.4" stroke-dasharray="5 1.2"/>
<path d="M297.4,1289 L311.5,1298 L302,1305 Z" fill="#111"/>
<text transform="translate(43.7,1490.8) scale(0.950,1)" x="-2.7" y="0" font-size="34.1" fill="#444" stroke="#444" stroke-width="0.8" stroke-linejoin="round">MoO</text>
<text transform="translate(113.0,1498.5) scale(1.158,1)" x="-0.8" y="0" font-size="20.0" fill="#444" stroke="#444" stroke-width="0.6" stroke-linejoin="round">3</text>
<path d="M130,1484 L142.6,1478 L142.6,1490 Z" fill="#111"/>
<line x1="142" y1="1484" x2="152" y2="1484" stroke="#333" stroke-width="1.4"/>
<text transform="translate(188.7,1436.0) scale(0.936,1)" x="-1.6" y="0" font-size="36.4" fill="#45430a" stroke="#45430a" stroke-width="1.0" stroke-linejoin="round">S</text>
<text transform="translate(647.4,1437.0) scale(0.971,1)" x="-2.9" y="0" font-size="35.7" fill="#45430a" stroke="#45430a" stroke-width="1.0" stroke-linejoin="round">D</text>
<text transform="translate(357.6,1535.5) scale(0.856,1)" x="-1.9" y="0" font-size="37.1" fill="#5a1c0a" stroke="#5a1c0a" stroke-width="1.2" stroke-linejoin="round">C8-BTBT</text>
<text transform="translate(404.9,1597.7) scale(0.870,1)" x="-1.6" y="0" font-size="36.1" fill="#0b5a1e" stroke="#0b5a1e" stroke-width="1.2" stroke-linejoin="round">SiO</text>
<text transform="translate(456.7,1606.0) scale(1.361,1)" x="-0.9" y="0" font-size="18.6" fill="#0b5a1e" stroke="#0b5a1e" stroke-width="1.0" stroke-linejoin="round">2</text>
<text transform="translate(393.4,1660.5) scale(0.995,1)" x="-1.6" y="0" font-size="35.4" fill="#0a5a24" stroke="#0a5a24" stroke-width="1.2" stroke-linejoin="round">Si (P</text>
<text transform="translate(468.2,1642.6) scale(1.196,1)" x="-0.4" y="0" font-size="8.3" fill="#0a5a24" stroke="#0a5a24" stroke-width="1.6" stroke-linejoin="round">+</text>
<text transform="translate(476.3,1660.5) scale(0.852,1)" x="-0.2" y="0" font-size="35.4" fill="#0a5a24" stroke="#0a5a24" stroke-width="1.0" stroke-linejoin="round">)</text>
<text transform="translate(95.6,1173.6) scale(1.236,1)" x="-1.8" y="0" font-size="121.4" fill="#000" font-weight="bold">f</text>
</g>
<g id="panel_g">
<rect x="1397.5" y="1380" width="150" height="227" fill="url(#aug)"/>
<rect x="1547.4" y="1133" width="100.5" height="503.5" fill="#00b3e8"/>
<rect x="1647.4" y="1121.8" width="434.6" height="568.4" fill="#ff6a14"/>
<line x1="1805.3" y1="1122" x2="1805.3" y2="1690" stroke="#8a98a8" stroke-width="2.4" stroke-dasharray="3 3.4" opacity="0.9"/>
<line x1="2061.2" y1="1691" x2="2061.2" y2="1138" stroke="#b45cc0" stroke-width="5"/>
<path d="M2061.2,1125 L2053,1143 L2069.4,1143 Z" fill="#a964c4"/>
<ellipse cx="1857.5" cy="1105.7" rx="11.3" ry="12" fill="#0fb153"/>
<ellipse cx="1890.4" cy="1105.7" rx="11.3" ry="12" fill="#0fb153"/>
<ellipse cx="1923.3" cy="1105.7" rx="11.3" ry="12" fill="#0fb153"/>
<ellipse cx="1956.7" cy="1105.7" rx="11.3" ry="12" fill="#0fb153"/>
<ellipse cx="1989.6" cy="1105.7" rx="11.3" ry="12" fill="#0fb153"/>
<ellipse cx="2022.7" cy="1105.7" rx="11.3" ry="12" fill="#0fb153"/>
<ellipse cx="2059.6" cy="1105.7" rx="11.3" ry="12" fill="#0fb153"/>
<path d="M1953.2,1128.5 C1957.4,1129.6 1970.3,1130.1 1978.4,1134.8 C1986.5,1139.6 1994.7,1146.7 2001.7,1157.0 C2008.7,1167.3 2015.7,1182.3 2020.4,1196.7 C2025.1,1211.1 2028.2,1230.5 2030.2,1243.4 C2032.2,1256.2 2032.4,1264.0 2032.5,1273.7 C2032.7,1283.4 2032.1,1292.0 2030.9,1301.7 C2029.7,1311.5 2028.0,1321.6 2025.1,1332.1 C2022.2,1342.6 2018.1,1354.6 2013.4,1364.7 C2008.7,1374.9 2002.5,1385.0 1997.1,1392.8 C1991.6,1400.5 1983.4,1408.3 1980.7,1411.4 L1971.4,1423.6 L1953.9,1411.0 L1969.1,1383.4 L1966.7,1391.6 L1966.7,1391.6 C1969.4,1390.2 1977.2,1388.7 1983.1,1383.4 C1988.9,1378.2 1995.8,1369.4 2001.7,1360.1 C2007.6,1350.7 2014.2,1337.9 2018.5,1327.4 C2022.9,1316.9 2025.9,1306.0 2027.9,1297.1 C2029.9,1288.1 2030.5,1282.7 2030.4,1273.7 C2030.4,1264.8 2029.9,1254.3 2027.4,1243.4 C2024.9,1232.5 2020.3,1219.7 2015.3,1208.4 C2010.2,1197.1 2003.2,1184.8 1997.1,1175.7 C1990.9,1166.6 1985.6,1158.6 1978.4,1153.5 C1971.2,1148.5 1958.0,1146.7 1953.9,1145.4 Z" fill="url(#garr)"/>
<rect x="1831" y="1440" width="10" height="13" fill="#12a84e"/>
<ellipse cx="1836" cy="1435.5" rx="11.5" ry="11" fill="#12b050"/>
<rect x="1821.5" y="1451.6" width="29" height="6.4" rx="3" fill="#1777c2"/>
<rect x="1884.7" y="1440" width="10" height="13" fill="#12a84e"/>
<ellipse cx="1889.7" cy="1435.5" rx="11.5" ry="11" fill="#12b050"/>
<rect x="1875.2" y="1451.6" width="29" height="6.4" rx="3" fill="#1777c2"/>
<rect x="1939.5" y="1440" width="10" height="13" fill="#12a84e"/>
<ellipse cx="1944.5" cy="1435.5" rx="11.5" ry="11" fill="#12b050"/>
<rect x="1930.0" y="1451.6" width="29" height="6.4" rx="3" fill="#1777c2"/>
<rect x="1994.4" y="1440" width="10" height="13" fill="#12a84e"/>
<ellipse cx="1999.4" cy="1435.5" rx="11.5" ry="11" fill="#12b050"/>
<rect x="1984.9" y="1451.6" width="29" height="6.4" rx="3" fill="#1777c2"/>
<line x1="1397.5" y1="1607" x2="1547" y2="1607" stroke="#ff3350" stroke-width="3.3" stroke-dasharray="9.5 4.6"/>
<ellipse cx="1467" cy="1623.7" rx="10.5" ry="11" fill="#ff1522"/>
<ellipse cx="1598.5" cy="1651.6" rx="11.5" ry="12" fill="#ff1522"/>
<ellipse cx="1664" cy="1706.5" rx="11" ry="12" fill="#ff1522"/>
<ellipse cx="1694" cy="1706.5" rx="11" ry="12" fill="#ff1522"/>
<ellipse cx="1723.6" cy="1706.5" rx="11" ry="12" fill="#ff1522"/>
<ellipse cx="1753.6" cy="1706.5" rx="11" ry="12" fill="#ff1522"/>
<ellipse cx="1784.5" cy="1706.5" rx="11" ry="12" fill="#ff1522"/>
<ellipse cx="1861.7" cy="1706.5" rx="11" ry="12" fill="#ff1522"/>
<ellipse cx="1915.4" cy="1706.5" rx="11" ry="12" fill="#ff1522"/>
<ellipse cx="1965.5" cy="1706.5" rx="11" ry="12" fill="#ff1522"/>
<ellipse cx="2015.7" cy="1706.5" rx="11" ry="12" fill="#ff1522"/>
<ellipse cx="2062.4" cy="1706.5" rx="11" ry="12" fill="#ff1522"/>
<line x1="1812" y1="1706" x2="1852" y2="1706" stroke="#ff5566" stroke-width="2.4"/>
<path d="M1800.5,1706 L1815,1700 L1815,1712 Z" fill="#ff2535"/>
<path d="M1588.5,1663.7 C1585.8,1668.2 1578.1,1683.8 1571.8,1691.1 C1565.5,1698.4 1559.0,1704.0 1550.9,1707.4 C1542.7,1710.8 1531.9,1712.7 1523.0,1711.6 C1514.1,1710.4 1504.4,1705.7 1497.4,1700.4 C1490.4,1695.1 1485.2,1688.0 1481.1,1679.5 C1477.1,1670.9 1474.3,1654.3 1473.0,1649.2 L1462.5,1645.8 L1469.5,1635.3 L1490.9,1651.1 L1482.3,1650.4 L1482.3,1650.4 C1483.6,1654.1 1487.1,1665.9 1490.4,1672.5 C1493.7,1679.1 1496.6,1684.5 1502.0,1689.9 C1507.5,1695.4 1516.0,1704.1 1523.0,1705.0 C1529.9,1706.0 1537.3,1700.4 1543.9,1695.8 C1550.5,1691.1 1557.4,1683.7 1562.5,1677.2 C1567.6,1670.6 1572.6,1659.7 1574.6,1656.2 Z" fill="#ff1522"/>
<path d="M1664.8,1724.1 C1662.1,1726.6 1654.3,1735.2 1648.5,1738.8 C1642.7,1742.4 1636.1,1745.5 1629.9,1745.7 C1623.7,1745.9 1616.8,1744.4 1611.3,1739.9 C1605.9,1735.5 1600.3,1726.4 1597.4,1719.0 C1594.5,1711.6 1593.9,1702.1 1593.9,1695.8 C1593.9,1689.4 1596.8,1683.2 1597.4,1680.6 L1591.6,1673.7 L1599.7,1669.0 L1612.5,1683.0 L1604.3,1681.8 L1604.3,1681.8 C1604.0,1684.5 1602.1,1692.3 1602.5,1698.1 C1602.9,1703.9 1604.0,1710.8 1606.7,1716.7 C1609.3,1722.6 1614.0,1730.1 1618.3,1733.4 C1622.6,1736.7 1627.6,1737.3 1632.2,1736.4 C1636.9,1735.6 1641.7,1731.4 1646.2,1728.3 C1650.7,1725.2 1656.9,1719.6 1659.0,1717.8 Z" fill="#ff1522"/>
<rect x="1820.8" y="1747.2" width="29.2" height="6.6" rx="3" fill="#0a78c2"/>
<rect x="1875.7" y="1747.2" width="29.2" height="6.6" rx="3" fill="#0a78c2"/>
<rect x="1930.5" y="1747.2" width="29.2" height="6.6" rx="3" fill="#0a78c2"/>
<rect x="1985" y="1747.2" width="29.0" height="6.6" rx="3" fill="#0a78c2"/>
<line x1="2024" y1="1750" x2="2088" y2="1750" stroke="#3f7fc4" stroke-width="2"/>
<path d="M2098,1750 L2085,1743 L2085,1757 Z" fill="#1f6fb8"/>
<path d="M2251.5,1297.0 C2248.2,1297.7 2237.8,1297.9 2232.0,1301.0 C2226.2,1304.1 2219.5,1309.2 2216.5,1315.7 C2213.5,1322.2 2213.6,1330.7 2214.0,1340.0 C2214.4,1349.3 2221.1,1369.8 2218.8,1371.8 C2216.5,1373.8 2206.2,1357.8 2200.0,1352.0 C2193.8,1346.2 2185.1,1335.0 2181.4,1336.7 C2177.7,1338.4 2178.8,1352.7 2178.0,1362.0 C2177.2,1371.3 2180.1,1391.5 2176.8,1392.8 C2173.5,1394.1 2164.2,1377.0 2158.0,1370.0 C2151.8,1363.0 2142.6,1349.0 2139.4,1350.7 C2136.2,1352.4 2138.8,1369.9 2139.0,1380.0 C2139.2,1390.1 2142.8,1409.1 2140.6,1411.4 C2138.4,1413.7 2130.9,1399.1 2126.0,1394.0 C2121.1,1388.9 2117.4,1381.7 2111.4,1381.0 C2105.4,1380.3 2093.6,1388.5 2090.0,1390.0" fill="none" stroke="#8e44b0" stroke-width="6.5" stroke-linecap="round" stroke-linejoin="round"/>
<path d="M2068,1401 L2089,1388 L2091,1404.5 Z" fill="#a06cc8"/>
<text transform="translate(1572.0,1175.0) scale(0.972,1)" x="-1.5" y="0" font-size="34.3" fill="#06304f" stroke="#06304f" stroke-width="1.0" stroke-linejoin="round">-2.3</text>
<text transform="translate(1702.0,1162.5) scale(0.936,1)" x="-1.5" y="0" font-size="32.9" fill="#43190c" stroke="#43190c" stroke-width="1.0" stroke-linejoin="round">-2.2</text>
<text transform="translate(1560.0,1401.5) scale(1.000,1)" x="-2.7" y="0" font-size="33.3" fill="#06304f" stroke="#06304f" stroke-width="1.0" stroke-linejoin="round">MoO</text>
<text transform="translate(1630.0,1409.0) scale(1.360,1)" x="-0.7" y="0" font-size="18.6" fill="#1d6fae" stroke="#1d6fae" stroke-width="1.0" stroke-linejoin="round">3</text>
<text transform="translate(1655.5,1382.0) scale(0.912,1)" x="-1.7" y="0" font-size="34.3" fill="#43190c" stroke="#43190c" stroke-width="1.0" stroke-linejoin="round">C8-BTBT</text>
<text transform="translate(1655.5,1436.0) scale(0.918,1)" x="-2.1" y="0" font-size="35.7" fill="#43190c" stroke="#43190c" stroke-width="1.0" stroke-linejoin="round">(Channel)</text>
<text transform="translate(1824.0,1362.4) scale(0.926,1)" x="-0.7" y="0" font-size="34.1" fill="#43190c" stroke="#43190c" stroke-width="1.0" stroke-linejoin="round">Trapped</text>
<text transform="translate(1822.0,1405.6) scale(0.951,1)" x="-1.4" y="0" font-size="33.8" fill="#43190c" stroke="#43190c" stroke-width="1.0" stroke-linejoin="round">electrons</text>
<text transform="translate(1830.0,1505.0) scale(1.067,1)" x="-2.5" y="0" font-size="31.2" fill="#43190c" stroke="#43190c" stroke-width="1.0" stroke-linejoin="round">LUMO (-4.2)</text>
<text transform="translate(1446.0,1502.8) scale(0.990,1)" x="-0.0" y="0" font-size="33.8" fill="#333" stroke="#333" stroke-width="1.0" stroke-linejoin="round">Au</text>
<text transform="translate(1439.0,1594.6) scale(0.981,1)" x="-1.4" y="0" font-size="31.9" fill="#2a3a4a" stroke="#2a3a4a" stroke-width="1.0" stroke-linejoin="round">-5.1</text>
<text transform="translate(1573.0,1623.7) scale(0.980,1)" x="-1.5" y="0" font-size="33.3" fill="#06304f" stroke="#06304f" stroke-width="1.0" stroke-linejoin="round">-5.3</text>
<text transform="translate(1700.8,1678.0) scale(0.939,1)" x="-1.5" y="0" font-size="33.3" fill="#43190c" stroke="#43190c" stroke-width="1.0" stroke-linejoin="round">-5.6</text>
<text transform="translate(1355.0,1620.0) scale(0.962,1)" x="-2.9" y="0" font-size="36.2" fill="#333" stroke="#333" stroke-width="1.0" stroke-linejoin="round">E</text>
<text transform="translate(1375.5,1626.0) scale(1.006,1)" x="-1.6" y="0" font-size="20.3" fill="#333" stroke="#333" stroke-width="1.0" stroke-linejoin="round">F</text>
<text transform="translate(1359.0,1740.0) scale(0.918,1)" x="-2.8" y="0" font-size="35.5" fill="#333" stroke="#333" stroke-width="1.0" stroke-linejoin="round">Hole extraction</text>
<text transform="translate(2090.4,1308.7) scale(0.915,1)" x="-2.7" y="0" font-size="35.8" fill="#333" stroke="#333" stroke-width="1.0" stroke-linejoin="round">UV light</text>
<text transform="translate(2104.4,1762.0) scale(0.935,1)" x="-2.8" y="0" font-size="35.4" fill="#333" stroke="#333" stroke-width="1.0" stroke-linejoin="round">PC</text>
<text transform="translate(2148.0,1770.0) scale(1.084,1)" x="-1.0" y="0" font-size="20.0" fill="#555" stroke="#555" stroke-width="1.0" stroke-linejoin="round">61</text>
<text transform="translate(2173.0,1762.0) scale(0.996,1)" x="-2.8" y="0" font-size="35.4" fill="#333" stroke="#333" stroke-width="1.0" stroke-linejoin="round">BM</text>
<text transform="translate(1827.8,1791.3) scale(0.977,1)" x="-2.7" y="0" font-size="33.8" fill="#333" stroke="#333" stroke-width="1.0" stroke-linejoin="round">LUMO (-6.0)</text>
<text transform="translate(1344.0,1156.7) scale(1.082,1)" x="-4.9" y="0" font-size="122.6" fill="#000" font-weight="bold">g</text>
</g>
</svg>
</body></html>
